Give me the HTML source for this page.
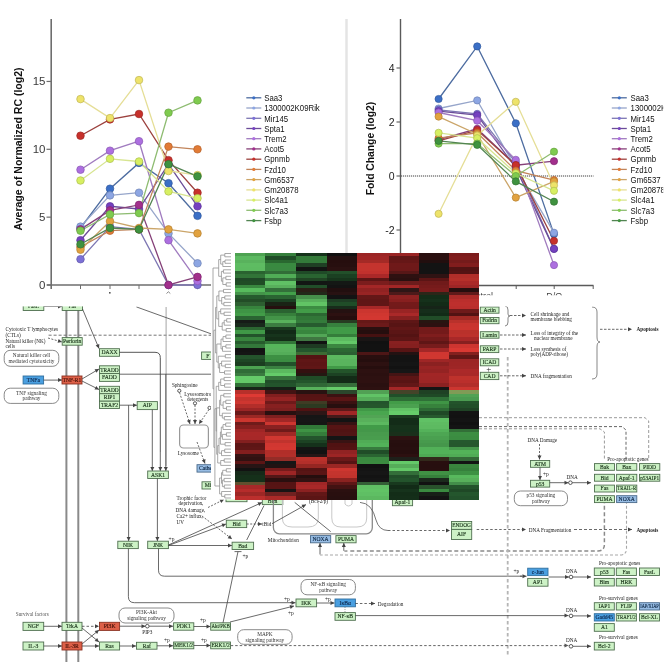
<!DOCTYPE html>
<html><head><meta charset="utf-8"><style>
html,body{margin:0;padding:0;background:#fff;width:667px;height:667px;overflow:hidden}
svg{display:block;will-change:transform;filter:blur(0.45px)}
</style></head><body>
<svg width="667" height="667" viewBox="0 0 667 667">
<rect width="667" height="667" fill="#fff"/>
<line x1="66.4" y1="309" x2="66.4" y2="662" stroke="#8a8a8a" stroke-width="2"/>
<line x1="78.3" y1="309" x2="78.3" y2="662" stroke="#8a8a8a" stroke-width="2"/>
<polyline points="48.6,335.2 211,335.2" fill="none" stroke="#666" stroke-width="0.9" stroke-dasharray="3,2"/>
<line x1="166.1" y1="307" x2="166.1" y2="466" stroke="#9a9a9a" stroke-width="0.9"/>
<polyline points="136.4,306.9 211,333.8" fill="none" stroke="#444" stroke-width="0.8"/>
<rect x="23.2" y="302.5" width="20.60" height="8.00" fill="#cdf2c6" stroke="#4f6f4f" stroke-width="0.9"/>
<text x="33.50" y="308.35" text-anchor="middle" font-size="5.6" fill="#1c361c" stroke="#1c361c" stroke-width="0.15" font-family='"Liberation Serif", serif'>FasL</text>
<polyline points="43.8,306.5 62,306.5" fill="none" stroke="#444" stroke-width="0.8"/>
<polygon points="62,306.5 58.00,308.50 58.00,304.50" fill="#444"/>
<rect x="62.2" y="302.5" width="20.30" height="8.00" fill="#cdf2c6" stroke="#4f6f4f" stroke-width="0.9"/>
<text x="72.35" y="308.35" text-anchor="middle" font-size="5.6" fill="#1c361c" stroke="#1c361c" stroke-width="0.15" font-family='"Liberation Serif", serif'>Fas</text>
<text x="5.5" y="331" text-anchor="start" font-size="5.2" fill="#222" font-family='"Liberation Serif", serif'>Cytotoxic T lymphocytes</text>
<text x="5.5" y="336.5" text-anchor="start" font-size="5.2" fill="#222" font-family='"Liberation Serif", serif'>(CTLs)</text>
<text x="5.5" y="342.5" text-anchor="start" font-size="5.2" fill="#222" font-family='"Liberation Serif", serif'>Natural killer (NK)</text>
<text x="5.5" y="348" text-anchor="start" font-size="5.2" fill="#222" font-family='"Liberation Serif", serif'>cells</text>
<polyline points="48,338 62,342" fill="none" stroke="#444" stroke-width="0.8" stroke-dasharray="2,1.5"/>
<polygon points="62,342 57.60,342.82 58.70,338.98" fill="#444"/>
<rect x="62.2" y="337.6" width="20.00" height="7.60" fill="#cdf2c6" stroke="#4f6f4f" stroke-width="0.9"/>
<text x="72.20" y="343.25" text-anchor="middle" font-size="5.6" fill="#1c361c" stroke="#1c361c" stroke-width="0.15" font-family='"Liberation Serif", serif'>Perforin</text>
<rect x="4.2" y="350.3" width="54.60" height="16.00" rx="6" ry="6" fill="#fff" stroke="#8a8a8a" stroke-width="1"/>
<text x="31.50" y="357.27" text-anchor="middle" font-size="5.3" fill="#333" font-family='"Liberation Serif", serif'>Natural killer cell</text>
<text x="31.50" y="362.83" text-anchor="middle" font-size="5.3" fill="#333" font-family='"Liberation Serif", serif'>mediated cytotoxicity</text>
<polyline points="82.5,309 99,348.5" fill="none" stroke="#444" stroke-width="0.8"/>
<polygon points="99,348.5 95.61,345.58 99.30,344.04" fill="#444"/>
<rect x="99.5" y="348.7" width="20.00" height="7.60" fill="#cdf2c6" stroke="#4f6f4f" stroke-width="0.9"/>
<text x="109.50" y="354.35" text-anchor="middle" font-size="5.6" fill="#1c361c" stroke="#1c361c" stroke-width="0.15" font-family='"Liberation Serif", serif'>DAXX</text>
<path d="M119.5,352.3 L155,352.3 Q160.3,352.3 160.3,357.6 L160.3,452" fill="none" stroke="#444" stroke-width="0.9"/>
<rect x="23.1" y="376.0" width="20.50" height="8.00" fill="#4a9fe0" stroke="#2f6f9f" stroke-width="0.9"/>
<text x="33.35" y="381.85" text-anchor="middle" font-size="5.6" fill="#0f2a50" stroke="#0f2a50" stroke-width="0.15" font-family='"Liberation Serif", serif'>TNFa</text>
<polyline points="43.6,380.1 62,380.1" fill="none" stroke="#444" stroke-width="0.8"/>
<polygon points="62,380.1 58.00,382.10 58.00,378.10" fill="#444"/>
<rect x="62.0" y="376.0" width="20.00" height="8.00" fill="#dd6048" stroke="#8a3020" stroke-width="0.9"/>
<text x="72.00" y="381.85" text-anchor="middle" font-size="5.6" fill="#4a1208" stroke="#4a1208" stroke-width="0.15" font-family='"Liberation Serif", serif' textLength="18.5" lengthAdjust="spacingAndGlyphs">TNF-R1</text>
<rect x="4.2" y="388.2" width="54.60" height="15.20" rx="6" ry="6" fill="#fff" stroke="#8a8a8a" stroke-width="1"/>
<text x="31.50" y="394.77" text-anchor="middle" font-size="5.3" fill="#333" font-family='"Liberation Serif", serif'>TNF signaling</text>
<text x="31.50" y="400.33" text-anchor="middle" font-size="5.3" fill="#333" font-family='"Liberation Serif", serif'>pathway</text>
<polyline points="82,379 99,369" fill="none" stroke="#444" stroke-width="0.8"/>
<polygon points="99,369 96.57,372.75 94.54,369.30" fill="#444"/>
<polyline points="82,381 99,389.5" fill="none" stroke="#444" stroke-width="0.8"/>
<polygon points="99,389.5 94.53,389.50 96.32,385.92" fill="#444"/>
<rect x="99.5" y="365.8" width="20.00" height="7.70" fill="#cdf2c6" stroke="#4f6f4f" stroke-width="0.9"/>
<text x="109.50" y="371.50" text-anchor="middle" font-size="5.6" fill="#1c361c" stroke="#1c361c" stroke-width="0.15" font-family='"Liberation Serif", serif' textLength="18.5" lengthAdjust="spacingAndGlyphs">TRADD</text>
<rect x="99.5" y="373.5" width="20.00" height="7.90" fill="#cdf2c6" stroke="#4f6f4f" stroke-width="0.9"/>
<text x="109.50" y="379.30" text-anchor="middle" font-size="5.6" fill="#1c361c" stroke="#1c361c" stroke-width="0.15" font-family='"Liberation Serif", serif'>FADD</text>
<polyline points="119.5,374.2 211,374.2" fill="none" stroke="#444" stroke-width="0.8"/>
<rect x="99.5" y="386.3" width="20.00" height="7.40" fill="#cdf2c6" stroke="#4f6f4f" stroke-width="0.9"/>
<text x="109.50" y="391.85" text-anchor="middle" font-size="5.6" fill="#1c361c" stroke="#1c361c" stroke-width="0.15" font-family='"Liberation Serif", serif' textLength="18.5" lengthAdjust="spacingAndGlyphs">TRADD</text>
<rect x="99.5" y="393.7" width="20.00" height="7.50" fill="#cdf2c6" stroke="#4f6f4f" stroke-width="0.9"/>
<text x="109.50" y="399.30" text-anchor="middle" font-size="5.6" fill="#1c361c" stroke="#1c361c" stroke-width="0.15" font-family='"Liberation Serif", serif'>RIP1</text>
<rect x="99.5" y="401.2" width="20.00" height="7.30" fill="#cdf2c6" stroke="#4f6f4f" stroke-width="0.9"/>
<text x="109.50" y="406.70" text-anchor="middle" font-size="5.6" fill="#1c361c" stroke="#1c361c" stroke-width="0.15" font-family='"Liberation Serif", serif'>TRAF2</text>
<rect x="201.6" y="352" width="12.40" height="7.40" fill="#cdf2c6" stroke="#4f6f4f" stroke-width="0.9"/>
<text x="207.80" y="357.55" text-anchor="middle" font-size="5.6" fill="#1c361c" stroke="#1c361c" stroke-width="0.15" font-family='"Liberation Serif", serif'>F</text>
<polyline points="119.5,405.2 137,405.2" fill="none" stroke="#444" stroke-width="0.8"/>
<polygon points="137,405.2 133.00,407.20 133.00,403.20" fill="#444"/>
<rect x="137.2" y="401.6" width="20.20" height="8.00" fill="#cdf2c6" stroke="#4f6f4f" stroke-width="0.9"/>
<text x="147.30" y="407.45" text-anchor="middle" font-size="5.6" fill="#1c361c" stroke="#1c361c" stroke-width="0.15" font-family='"Liberation Serif", serif'>AIP</text>
<polyline points="128.6,405.2 128.6,541" fill="none" stroke="#444" stroke-width="0.8"/>
<polygon points="128.6,541 126.60,537.00 130.60,537.00" fill="#444"/>
<polyline points="152.3,409.6 152.3,471" fill="none" stroke="#444" stroke-width="0.8"/>
<polygon points="152.3,471 150.30,467.00 154.30,467.00" fill="#444"/>
<polyline points="165.8,374.2 165.8,471" fill="none" stroke="#444" stroke-width="0.8"/>
<polygon points="165.8,471 163.80,467.00 167.80,467.00" fill="#444"/>
<polyline points="160.3,452 160.3,471" fill="none" stroke="#444" stroke-width="0.8"/>
<polygon points="160.3,471 158.30,467.00 162.30,467.00" fill="#444"/>
<rect x="147.7" y="471.0" width="20.70" height="7.50" fill="#cdf2c6" stroke="#4f6f4f" stroke-width="0.9"/>
<text x="158.05" y="476.60" text-anchor="middle" font-size="5.6" fill="#1c361c" stroke="#1c361c" stroke-width="0.15" font-family='"Liberation Serif", serif'>ASK1</text>
<polyline points="157.4,478.5 157.4,541" fill="none" stroke="#444" stroke-width="0.8"/>
<polygon points="157.4,541 155.40,537.00 159.40,537.00" fill="#444"/>
<rect x="117.8" y="541.2" width="20.50" height="7.40" fill="#cdf2c6" stroke="#4f6f4f" stroke-width="0.9"/>
<text x="128.05" y="546.75" text-anchor="middle" font-size="5.6" fill="#1c361c" stroke="#1c361c" stroke-width="0.15" font-family='"Liberation Serif", serif'>NIK</text>
<rect x="147.7" y="541.2" width="20.70" height="7.40" fill="#cdf2c6" stroke="#4f6f4f" stroke-width="0.9"/>
<text x="158.05" y="546.75" text-anchor="middle" font-size="5.6" fill="#1c361c" stroke="#1c361c" stroke-width="0.15" font-family='"Liberation Serif", serif'>JNK</text>
<text x="168.6" y="540.5" text-anchor="start" font-size="5.5" fill="#222" font-family='"Liberation Serif", serif'>+p</text>
<path d="M128.4,548.6 L128.4,596.7 Q128.4,602.7 134.4,602.7 L292,602.7" fill="none" stroke="#444" stroke-width="0.8"/>
<polyline points="290,602.7 295.5,602.7" fill="none" stroke="#444" stroke-width="0.8"/>
<polygon points="295.5,602.7 291.50,604.70 291.50,600.70" fill="#444"/>
<path d="M158.5,548.6 L158.5,570.2 Q158.5,576.2 164.5,576.2 L522,576.2" fill="none" stroke="#444" stroke-width="0.8"/>
<polyline points="520,576.2 526.5,576.2" fill="none" stroke="#444" stroke-width="0.8"/>
<polygon points="526.5,576.2 522.50,578.20 522.50,574.20" fill="#444"/>
<text x="171.9" y="387" text-anchor="start" font-size="5.2" fill="#222" font-family='"Liberation Serif", serif'>Sphingosine</text>
<circle cx="179.3" cy="390.8" r="1.6" fill="#fff" stroke="#333" stroke-width="0.8"/>
<text x="184.3" y="396" text-anchor="start" font-size="5.2" fill="#222" font-family='"Liberation Serif", serif'>Lysosomotropic</text>
<text x="187" y="400.6" text-anchor="start" font-size="5.2" fill="#222" font-family='"Liberation Serif", serif'>detergents</text>
<circle cx="195" cy="403.3" r="1.6" fill="#fff" stroke="#333" stroke-width="0.8"/>
<circle cx="209.5" cy="407.9" r="1.6" fill="#fff" stroke="#333" stroke-width="0.8"/>
<polyline points="179.5,392.5 190,424" fill="none" stroke="#444" stroke-width="0.8" stroke-dasharray="2,1.5"/>
<polygon points="190,424 186.84,420.84 190.63,419.57" fill="#444"/>
<polyline points="195,405 195,424" fill="none" stroke="#444" stroke-width="0.8" stroke-dasharray="2,1.5"/>
<polygon points="195,424 193.00,420.00 197.00,420.00" fill="#444"/>
<polyline points="209,409.5 199,424" fill="none" stroke="#444" stroke-width="0.8" stroke-dasharray="2,1.5"/>
<polygon points="199,424 199.62,419.57 202.92,421.84" fill="#444"/>
<rect x="179.6" y="425" width="28.8" height="23" rx="4" ry="4" fill="#fff" stroke="#999" stroke-width="1.2"/>
<text x="177.8" y="455" text-anchor="start" font-size="5.2" fill="#222" font-family='"Liberation Serif", serif'>Lysosome</text>
<polyline points="197,442 205,463.5" fill="none" stroke="#444" stroke-width="0.8" stroke-dasharray="2,1.5"/>
<polygon points="205,463.5 201.73,460.45 205.48,459.05" fill="#444"/>
<rect x="197" y="464.7" width="17.00" height="7.40" fill="#98bde4" stroke="#4a6a8a" stroke-width="0.9"/>
<text x="205.50" y="470.25" text-anchor="middle" font-size="5.6" fill="#102a48" stroke="#102a48" stroke-width="0.15" font-family='"Liberation Serif", serif'>Cathe</text>
<rect x="202" y="481.8" width="12.00" height="7.20" fill="#cdf2c6" stroke="#4f6f4f" stroke-width="0.9"/>
<text x="208.00" y="487.25" text-anchor="middle" font-size="5.6" fill="#1c361c" stroke="#1c361c" stroke-width="0.15" font-family='"Liberation Serif", serif'>Mi</text>
<text x="176.6" y="500.3" text-anchor="start" font-size="5.2" fill="#222" font-family='"Liberation Serif", serif'>Trophic factor</text>
<text x="178.5" y="505.3" text-anchor="start" font-size="5.2" fill="#222" font-family='"Liberation Serif", serif'>deprivation,</text>
<text x="175.6" y="511.5" text-anchor="start" font-size="5.2" fill="#222" font-family='"Liberation Serif", serif'>DNA damage,</text>
<text x="176.6" y="518" text-anchor="start" font-size="5.2" fill="#222" font-family='"Liberation Serif", serif'>Ca2+ influx,</text>
<text x="176.6" y="524" text-anchor="start" font-size="5.2" fill="#222" font-family='"Liberation Serif", serif'>UV</text>
<polyline points="208,507.5 224,499.5" fill="none" stroke="#444" stroke-width="0.8" stroke-dasharray="2,1.5"/>
<polygon points="224,499.5 221.32,503.08 219.53,499.50" fill="#444"/>
<polyline points="202,516 232,539" fill="none" stroke="#444" stroke-width="0.8" stroke-dasharray="2,1.5"/>
<polygon points="232,539 227.61,538.15 230.04,534.98" fill="#444"/>
<polyline points="168.4,545 262,502.5" fill="none" stroke="#444" stroke-width="0.8"/>
<polygon points="262,502.5 259.18,505.97 257.53,502.33" fill="#444"/>
<polyline points="168.4,545.5 226,524" fill="none" stroke="#444" stroke-width="0.8"/>
<polygon points="226,524 222.95,527.27 221.55,523.53" fill="#444"/>
<polyline points="168.4,545.5 232,545.5" fill="none" stroke="#444" stroke-width="0.8"/>
<polygon points="232,545.5 228.00,547.50 228.00,543.50" fill="#444"/>
<rect x="226.3" y="520.2" width="20.40" height="7.40" fill="#cdf2c6" stroke="#4f6f4f" stroke-width="0.9"/>
<text x="236.50" y="525.75" text-anchor="middle" font-size="5.6" fill="#1c361c" stroke="#1c361c" stroke-width="0.15" font-family='"Liberation Serif", serif'>Bid</text>
<polyline points="246.7,524 262,524" fill="none" stroke="#444" stroke-width="0.8" stroke-dasharray="2,1.5"/>
<polygon points="262,524 258.00,526.00 258.00,522.00" fill="#444"/>
<text x="262.3" y="526" text-anchor="start" font-size="5.2" fill="#222" font-family='"Liberation Serif", serif'>tBid</text>
<rect x="232.1" y="542.2" width="21.50" height="7.30" fill="#cdf2c6" stroke="#4f6f4f" stroke-width="0.9"/>
<text x="242.85" y="547.70" text-anchor="middle" font-size="5.6" fill="#1c361c" stroke="#1c361c" stroke-width="0.15" font-family='"Liberation Serif", serif'>Bad</text>
<text x="242.5" y="557.5" text-anchor="start" font-size="5.5" fill="#222" font-family='"Liberation Serif", serif'>+p</text>
<polyline points="246.7,540 264,505.6" fill="none" stroke="#444" stroke-width="0.8"/>
<polyline points="234.5,551.6 241.5,551.6" fill="none" stroke="#444" stroke-width="0.8"/>
<rect x="226" y="495" width="21.00" height="6.70" fill="#cdf2c6" stroke="#4f6f4f" stroke-width="0.9"/>
<rect x="262.3" y="497" width="20.50" height="7.60" fill="#cdf2c6" stroke="#4f6f4f" stroke-width="0.9"/>
<text x="272.55" y="502.65" text-anchor="middle" font-size="5.6" fill="#1c361c" stroke="#1c361c" stroke-width="0.15" font-family='"Liberation Serif", serif'>Bim</text>
<rect x="273.4" y="470" width="98.9" height="63.8" rx="6" ry="6" fill="none" stroke="#8a8a8a" stroke-width="1.3"/>
<path d="M282.4,490 L282.4,518 Q282.4,527 292,527 L308,527 Q318.3,527 318.3,518 L318.3,490" fill="none" stroke="#c8c8c8" stroke-width="1"/>
<path d="M331.8,490 L331.8,518 Q331.8,527 341,527 L357,527 Q366.7,527 366.7,518 L366.7,490" fill="none" stroke="#c8c8c8" stroke-width="1"/>
<path d="M345,498 L345,504 Q348.5,508 352,504 L352,498" fill="none" stroke="#c8c8c8" stroke-width="1"/>
<text x="309" y="503" text-anchor="start" font-size="5.2" fill="#222" font-family='"Liberation Serif", serif'>(Bcl-2/p)</text>
<polyline points="272,523.7 306,504.6" fill="none" stroke="#444" stroke-width="0.8"/>
<polygon points="306,504.6 303.49,508.30 301.53,504.82" fill="#444"/>
<polyline points="294.7,502.4 330.7,531.6" fill="none" stroke="#444" stroke-width="0.8"/>
<text x="267.8" y="541.5" text-anchor="start" font-size="5.2" fill="#222" font-family='"Liberation Serif", serif'>Mitochondrion</text>
<rect x="310.5" y="535.6" width="20.20" height="7.20" fill="#98bde4" stroke="#4a6a8a" stroke-width="0.9"/>
<text x="320.60" y="541.05" text-anchor="middle" font-size="5.6" fill="#102a48" stroke="#102a48" stroke-width="0.15" font-family='"Liberation Serif", serif'>NOXA</text>
<rect x="335.9" y="535.6" width="20.20" height="7.20" fill="#cdf2c6" stroke="#4f6f4f" stroke-width="0.9"/>
<text x="346.00" y="541.05" text-anchor="middle" font-size="5.6" fill="#1c361c" stroke="#1c361c" stroke-width="0.15" font-family='"Liberation Serif", serif'>PUMA</text>
<polyline points="320,554.5 320,543" fill="none" stroke="#444" stroke-width="0.8"/>
<polygon points="320,543 322.00,547.00 318.00,547.00" fill="#444"/>
<polyline points="343.8,550.7 343.8,543" fill="none" stroke="#444" stroke-width="0.8"/>
<polygon points="343.8,543 345.80,547.00 341.80,547.00" fill="#444"/>
<path d="M343.8,551 Q343.8,550.9 350,550.9 L598,550.9 Q604.4,550.9 604.4,544.5 L604.4,502.6" fill="none" stroke="#8a8a8a" stroke-width="1.5" stroke-dasharray="4,2.5"/>
<path d="M320,555 Q320,555 326,555 L620,555 Q626.5,555 626.5,548.5 L626.5,502.6" fill="none" stroke="#a8a8a8" stroke-width="1.1" stroke-dasharray="3,2"/>
<rect x="392.4" y="499" width="20.20" height="6.70" fill="#cdf2c6" stroke="#4f6f4f" stroke-width="0.9"/>
<text x="402.50" y="504.20" text-anchor="middle" font-size="5.6" fill="#1c361c" stroke="#1c361c" stroke-width="0.15" font-family='"Liberation Serif", serif'>Apaf-1</text>
<path d="M360,502.4 Q372,503 376,520 Q379,530.5 388,530.5" fill="none" stroke="#555" stroke-width="0.8"/>
<polyline points="388,530.5 450,530.5" fill="none" stroke="#444" stroke-width="0.8" stroke-dasharray="2.5,2"/>
<polygon points="450,530.5 446.00,532.50 446.00,528.50" fill="#444"/>
<rect x="451.5" y="521.5" width="20.20" height="7.90" fill="#cdf2c6" stroke="#4f6f4f" stroke-width="0.9"/>
<text x="461.60" y="527.30" text-anchor="middle" font-size="5.6" fill="#1c361c" stroke="#1c361c" stroke-width="0.15" font-family='"Liberation Serif", serif' textLength="18.7" lengthAdjust="spacingAndGlyphs">ENDOG</text>
<rect x="451.5" y="529.4" width="20.20" height="10.10" fill="#cdf2c6" stroke="#4f6f4f" stroke-width="0.9"/>
<text x="461.60" y="536.30" text-anchor="middle" font-size="5.6" fill="#1c361c" stroke="#1c361c" stroke-width="0.15" font-family='"Liberation Serif", serif'>AIF</text>
<polyline points="476.7,529.5 526,529.5" fill="none" stroke="#444" stroke-width="0.8" stroke-dasharray="2.5,2"/>
<polygon points="526,529.5 522.00,531.50 522.00,527.50" fill="#444"/>
<text x="528.8" y="531.5" text-anchor="start" font-size="5.2" fill="#222" font-family='"Liberation Serif", serif'>DNA Fragmentation</text>
<polyline points="574,529.5 632,529.5" fill="none" stroke="#444" stroke-width="0.8" stroke-dasharray="3,2"/>
<polygon points="632,529.5 628.00,531.50 628.00,527.50" fill="#444"/>
<text x="636.4" y="531.5" text-anchor="start" font-size="5.2" fill="#222" font-family='"Liberation Serif", serif' font-weight="bold">Apoptosis</text>
<polyline points="507.7,357 507.7,655" fill="none" stroke="#b5b5b5" stroke-width="1.8" stroke-dasharray="3.5,2.5"/>
<rect x="480.3" y="307" width="18.70" height="6.20" fill="#cdf2c6" stroke="#4f6f4f" stroke-width="0.9"/>
<text x="489.65" y="311.95" text-anchor="middle" font-size="5.6" fill="#1c361c" stroke="#1c361c" stroke-width="0.15" font-family='"Liberation Serif", serif'>Actin</text>
<rect x="480.3" y="317.5" width="18.70" height="6.20" fill="#cdf2c6" stroke="#4f6f4f" stroke-width="0.9"/>
<text x="489.65" y="322.45" text-anchor="middle" font-size="5.6" fill="#1c361c" stroke="#1c361c" stroke-width="0.15" font-family='"Liberation Serif", serif'>Fodrin</text>
<rect x="480.3" y="331.7" width="18.70" height="6.50" fill="#cdf2c6" stroke="#4f6f4f" stroke-width="0.9"/>
<text x="489.65" y="336.80" text-anchor="middle" font-size="5.6" fill="#1c361c" stroke="#1c361c" stroke-width="0.15" font-family='"Liberation Serif", serif'>Lamin</text>
<rect x="480.3" y="345.8" width="18.50" height="6.80" fill="#cdf2c6" stroke="#4f6f4f" stroke-width="0.9"/>
<text x="489.55" y="351.05" text-anchor="middle" font-size="5.6" fill="#1c361c" stroke="#1c361c" stroke-width="0.15" font-family='"Liberation Serif", serif'>PARP</text>
<rect x="480.3" y="358.8" width="18.50" height="7.00" fill="#cdf2c6" stroke="#4f6f4f" stroke-width="0.9"/>
<text x="489.55" y="364.15" text-anchor="middle" font-size="5.6" fill="#1c361c" stroke="#1c361c" stroke-width="0.15" font-family='"Liberation Serif", serif'>ICAD</text>
<text x="488.7" y="372" text-anchor="middle" font-size="9" fill="#222" font-family='"Liberation Serif", serif'>+</text>
<rect x="480.3" y="372.3" width="18.50" height="7.30" fill="#cdf2c6" stroke="#4f6f4f" stroke-width="0.9"/>
<text x="489.55" y="377.80" text-anchor="middle" font-size="5.6" fill="#1c361c" stroke="#1c361c" stroke-width="0.15" font-family='"Liberation Serif", serif'>CAD</text>
<path d="M505,306 Q508,306 508,310 L508,314 Q508,316 510,316 Q508,316 508,318 L508,322 Q508,326 505,326" fill="none" stroke="#555" stroke-width="0.7"/>
<polyline points="510,315.5 526,315.5" fill="none" stroke="#444" stroke-width="0.8" stroke-dasharray="2.5,1.5"/>
<polygon points="526,315.5 522.00,317.50 522.00,313.50" fill="#444"/>
<text x="530.5" y="316" text-anchor="start" font-size="5.2" fill="#222" font-family='"Liberation Serif", serif'>Cell shrinkage and</text>
<text x="530.5" y="321" text-anchor="start" font-size="5.2" fill="#222" font-family='"Liberation Serif", serif'>membrane blebbing</text>
<polyline points="500,335 526,335" fill="none" stroke="#444" stroke-width="0.8" stroke-dasharray="2.5,1.5"/>
<polygon points="526,335 522.00,337.00 522.00,333.00" fill="#444"/>
<text x="530.5" y="335.3" text-anchor="start" font-size="5.2" fill="#222" font-family='"Liberation Serif", serif'>Loss of integrity of the</text>
<text x="534" y="340.3" text-anchor="start" font-size="5.2" fill="#222" font-family='"Liberation Serif", serif'>nuclear membrane</text>
<polyline points="500,349 526,349" fill="none" stroke="#444" stroke-width="0.8" stroke-dasharray="2.5,1.5"/>
<polygon points="526,349 522.00,351.00 522.00,347.00" fill="#444"/>
<text x="530.5" y="350.5" text-anchor="start" font-size="5.2" fill="#222" font-family='"Liberation Serif", serif'>Loss synthesis of</text>
<text x="530.5" y="355.5" text-anchor="start" font-size="5.2" fill="#222" font-family='"Liberation Serif", serif'>poly(ADP-ribose)</text>
<polyline points="500,375.8 526,375.8" fill="none" stroke="#444" stroke-width="0.8" stroke-dasharray="2.5,1.5"/>
<polygon points="526,375.8 522.00,377.80 522.00,373.80" fill="#444"/>
<text x="530.5" y="378" text-anchor="start" font-size="5.2" fill="#222" font-family='"Liberation Serif", serif'>DNA fragmentation</text>
<path d="M592,307 Q597,307 597,312 L597,337 Q597,342 600,342 Q597,342 597,347 L597,374 Q597,379 592,379" fill="none" stroke="#555" stroke-width="0.7"/>
<polyline points="600,329.3 632,329.3" fill="none" stroke="#444" stroke-width="0.8" stroke-dasharray="2.5,1.5"/>
<polygon points="632,329.3 628.00,331.30 628.00,327.30" fill="#444"/>
<text x="636.5" y="331.3" text-anchor="start" font-size="5.2" fill="#222" font-family='"Liberation Serif", serif' font-weight="bold">Apoptosis</text>
<polyline points="479,417.7 645,417.7 648.7,421 648.7,459" fill="none" stroke="#9a9a9a" stroke-width="1.0" stroke-dasharray="3,2"/>
<polyline points="479,426.6 622,426.6 626,430 626,459" fill="none" stroke="#666" stroke-width="1.0" stroke-dasharray="3,2"/>
<polyline points="479,428.8 600,428.8 604.4,432 604.4,459" fill="none" stroke="#9a9a9a" stroke-width="1.0" stroke-dasharray="3,2"/>
<text x="527.6" y="441.5" text-anchor="start" font-size="5.2" fill="#222" font-family='"Liberation Serif", serif'>DNA Damage</text>
<polyline points="539.5,444 539.5,459.5" fill="none" stroke="#444" stroke-width="0.8" stroke-dasharray="2,1.5"/>
<polygon points="539.5,459.5 537.50,455.50 541.50,455.50" fill="#444"/>
<rect x="530.5" y="460.5" width="19.20" height="6.80" fill="#cdf2c6" stroke="#4f6f4f" stroke-width="0.9"/>
<text x="540.10" y="465.75" text-anchor="middle" font-size="5.6" fill="#1c361c" stroke="#1c361c" stroke-width="0.15" font-family='"Liberation Serif", serif'>ATM</text>
<polyline points="540,467.3 540,480" fill="none" stroke="#444" stroke-width="0.8"/>
<polygon points="540,480 538.00,476.00 542.00,476.00" fill="#444"/>
<text x="543" y="476" text-anchor="start" font-size="5.5" fill="#222" font-family='"Liberation Serif", serif'>+p</text>
<rect x="530.5" y="480.3" width="19.20" height="6.80" fill="#cdf2c6" stroke="#4f6f4f" stroke-width="0.9"/>
<text x="540.10" y="485.55" text-anchor="middle" font-size="5.6" fill="#1c361c" stroke="#1c361c" stroke-width="0.15" font-family='"Liberation Serif", serif'>p53</text>
<polyline points="549.7,482.7 568.5,482.7" fill="none" stroke="#444" stroke-width="0.8"/>
<polygon points="568.5,482.7 564.50,484.70 564.50,480.70" fill="#444"/>
<circle cx="570.4" cy="482.7" r="1.8" fill="#fff" stroke="#333" stroke-width="0.8"/>
<text x="566.5" y="479" text-anchor="start" font-size="5.2" fill="#222" font-family='"Liberation Serif", serif'>DNA</text>
<polyline points="572.2,482.7 591,482.7" fill="none" stroke="#444" stroke-width="0.8"/>
<polygon points="591,482.7 587.00,484.70 587.00,480.70" fill="#444"/>
<rect x="514.3" y="491.0" width="53.20" height="14.70" rx="6" ry="6" fill="#fff" stroke="#8a8a8a" stroke-width="1"/>
<text x="540.90" y="497.32" text-anchor="middle" font-size="5.3" fill="#333" font-family='"Liberation Serif", serif'>p53 signaling</text>
<text x="540.90" y="502.88" text-anchor="middle" font-size="5.3" fill="#333" font-family='"Liberation Serif", serif'>pathway</text>
<text x="607.3" y="461.2" text-anchor="start" font-size="5.2" fill="#222" font-family='"Liberation Serif", serif'>Pro-apoptotic genes</text>
<rect x="594.5" y="463.6" width="20.00" height="6.70" fill="#cdf2c6" stroke="#4f6f4f" stroke-width="0.9"/>
<text x="604.50" y="468.80" text-anchor="middle" font-size="5.6" fill="#1c361c" stroke="#1c361c" stroke-width="0.15" font-family='"Liberation Serif", serif'>Bak</text>
<rect x="616.6" y="463.6" width="20.20" height="6.70" fill="#cdf2c6" stroke="#4f6f4f" stroke-width="0.9"/>
<text x="626.70" y="468.80" text-anchor="middle" font-size="5.6" fill="#1c361c" stroke="#1c361c" stroke-width="0.15" font-family='"Liberation Serif", serif'>Bax</text>
<rect x="639.5" y="463.6" width="20.30" height="6.70" fill="#cdf2c6" stroke="#4f6f4f" stroke-width="0.9"/>
<text x="649.65" y="468.80" text-anchor="middle" font-size="5.6" fill="#1c361c" stroke="#1c361c" stroke-width="0.15" font-family='"Liberation Serif", serif'>PIDD</text>
<rect x="594.5" y="474.3" width="20.00" height="6.90" fill="#cdf2c6" stroke="#4f6f4f" stroke-width="0.9"/>
<text x="604.50" y="479.60" text-anchor="middle" font-size="5.6" fill="#1c361c" stroke="#1c361c" stroke-width="0.15" font-family='"Liberation Serif", serif'>Bid</text>
<rect x="616.6" y="474.3" width="20.20" height="6.90" fill="#cdf2c6" stroke="#4f6f4f" stroke-width="0.9"/>
<text x="626.70" y="479.60" text-anchor="middle" font-size="5.6" fill="#1c361c" stroke="#1c361c" stroke-width="0.15" font-family='"Liberation Serif", serif'>Apaf-1</text>
<rect x="639.5" y="474.3" width="20.30" height="6.90" fill="#cdf2c6" stroke="#4f6f4f" stroke-width="0.9"/>
<text x="649.65" y="479.60" text-anchor="middle" font-size="5.6" fill="#1c361c" stroke="#1c361c" stroke-width="0.15" font-family='"Liberation Serif", serif' textLength="18.8" lengthAdjust="spacingAndGlyphs">p53AIP1</text>
<rect x="594.5" y="485.1" width="20.00" height="6.90" fill="#cdf2c6" stroke="#4f6f4f" stroke-width="0.9"/>
<text x="604.50" y="490.40" text-anchor="middle" font-size="5.6" fill="#1c361c" stroke="#1c361c" stroke-width="0.15" font-family='"Liberation Serif", serif'>Fas</text>
<rect x="616.6" y="485.1" width="20.20" height="6.90" fill="#cdf2c6" stroke="#4f6f4f" stroke-width="0.9"/>
<text x="626.70" y="490.40" text-anchor="middle" font-size="5.6" fill="#1c361c" stroke="#1c361c" stroke-width="0.15" font-family='"Liberation Serif", serif' textLength="18.7" lengthAdjust="spacingAndGlyphs">TRAIL-R</text>
<rect x="594.5" y="495.7" width="20.00" height="6.90" fill="#cdf2c6" stroke="#4f6f4f" stroke-width="0.9"/>
<text x="604.50" y="501.00" text-anchor="middle" font-size="5.6" fill="#1c361c" stroke="#1c361c" stroke-width="0.15" font-family='"Liberation Serif", serif'>PUMA</text>
<rect x="616.6" y="495.7" width="20.20" height="6.90" fill="#98bde4" stroke="#4a6a8a" stroke-width="0.9"/>
<text x="626.70" y="501.00" text-anchor="middle" font-size="5.6" fill="#102a48" stroke="#102a48" stroke-width="0.15" font-family='"Liberation Serif", serif'>NOXA</text>
<rect x="301" y="579.5" width="54.40" height="15.30" rx="6" ry="6" fill="#fff" stroke="#8a8a8a" stroke-width="1"/>
<text x="328.20" y="586.12" text-anchor="middle" font-size="5.3" fill="#333" font-family='"Liberation Serif", serif'>NF-κB signaling</text>
<text x="328.20" y="591.68" text-anchor="middle" font-size="5.3" fill="#333" font-family='"Liberation Serif", serif'>pathway</text>
<text x="284" y="601" text-anchor="start" font-size="5.5" fill="#222" font-family='"Liberation Serif", serif'>+p</text>
<rect x="296" y="599" width="20.60" height="7.80" fill="#cdf2c6" stroke="#4f6f4f" stroke-width="0.9"/>
<text x="306.30" y="604.75" text-anchor="middle" font-size="5.6" fill="#1c361c" stroke="#1c361c" stroke-width="0.15" font-family='"Liberation Serif", serif'>IKK</text>
<text x="288" y="614.5" text-anchor="start" font-size="5.5" fill="#222" font-family='"Liberation Serif", serif'>+p</text>
<polyline points="316.6,603 334.5,603" fill="none" stroke="#444" stroke-width="0.8"/>
<polygon points="334.5,603 330.50,605.00 330.50,601.00" fill="#444"/>
<text x="325" y="600.5" text-anchor="start" font-size="5.5" fill="#222" font-family='"Liberation Serif", serif'>+p</text>
<rect x="335" y="599" width="20.40" height="7.80" fill="#4a9fe0" stroke="#2f6f9f" stroke-width="0.9"/>
<text x="345.20" y="604.75" text-anchor="middle" font-size="5.6" fill="#0f2a50" stroke="#0f2a50" stroke-width="0.15" font-family='"Liberation Serif", serif'>IκBα</text>
<polyline points="355.4,603.5 375,603.5" fill="none" stroke="#444" stroke-width="0.8" stroke-dasharray="2.5,2"/>
<polygon points="375,603.5 371.00,605.50 371.00,601.50" fill="#444"/>
<text x="377.8" y="605.5" text-anchor="start" font-size="5.2" fill="#222" font-family='"Liberation Serif", serif'>Degradation</text>
<line x1="345" y1="607" x2="345" y2="612.5" stroke="#666" stroke-width="0.6" stroke-dasharray="1,1"/>
<rect x="335" y="612.6" width="20.40" height="7.70" fill="#cdf2c6" stroke="#4f6f4f" stroke-width="0.9"/>
<text x="345.20" y="618.30" text-anchor="middle" font-size="5.6" fill="#1c361c" stroke="#1c361c" stroke-width="0.15" font-family='"Liberation Serif", serif'>NF-κB</text>
<polyline points="355.4,615.6 568.5,615.6" fill="none" stroke="#444" stroke-width="0.8"/>
<polygon points="568.5,615.6 564.50,617.60 564.50,613.60" fill="#444"/>
<text x="513.5" y="573" text-anchor="start" font-size="5.5" fill="#222" font-family='"Liberation Serif", serif'>+p</text>
<rect x="527.7" y="568.2" width="20.30" height="7.40" fill="#4a9fe0" stroke="#2f6f9f" stroke-width="0.9"/>
<text x="537.85" y="573.75" text-anchor="middle" font-size="5.6" fill="#0f2a50" stroke="#0f2a50" stroke-width="0.15" font-family='"Liberation Serif", serif'>c-Jun</text>
<rect x="527.7" y="578.4" width="20.30" height="7.80" fill="#cdf2c6" stroke="#4f6f4f" stroke-width="0.9"/>
<text x="537.85" y="584.15" text-anchor="middle" font-size="5.6" fill="#1c361c" stroke="#1c361c" stroke-width="0.15" font-family='"Liberation Serif", serif'>AP1</text>
<polyline points="548.6,577 569,577" fill="none" stroke="#444" stroke-width="0.8"/>
<polygon points="569,577 565.00,579.00 565.00,575.00" fill="#444"/>
<circle cx="571" cy="577" r="1.8" fill="#fff" stroke="#333" stroke-width="0.8"/>
<text x="566" y="573" text-anchor="start" font-size="5.2" fill="#222" font-family='"Liberation Serif", serif'>DNA</text>
<polyline points="573,577 591,577" fill="none" stroke="#444" stroke-width="0.8"/>
<polygon points="591,577 587.00,579.00 587.00,575.00" fill="#444"/>
<text x="599" y="565" text-anchor="start" font-size="5.2" fill="#222" font-family='"Liberation Serif", serif'>Pro-apoptotic genes</text>
<rect x="594.3" y="568.0" width="20.00" height="7.50" fill="#cdf2c6" stroke="#4f6f4f" stroke-width="0.9"/>
<text x="604.30" y="573.60" text-anchor="middle" font-size="5.6" fill="#1c361c" stroke="#1c361c" stroke-width="0.15" font-family='"Liberation Serif", serif'>p53</text>
<rect x="616.3" y="568.0" width="20.10" height="7.50" fill="#cdf2c6" stroke="#4f6f4f" stroke-width="0.9"/>
<text x="626.35" y="573.60" text-anchor="middle" font-size="5.6" fill="#1c361c" stroke="#1c361c" stroke-width="0.15" font-family='"Liberation Serif", serif'>Fas</text>
<rect x="639.5" y="568.0" width="20.00" height="7.50" fill="#cdf2c6" stroke="#4f6f4f" stroke-width="0.9"/>
<text x="649.50" y="573.60" text-anchor="middle" font-size="5.6" fill="#1c361c" stroke="#1c361c" stroke-width="0.15" font-family='"Liberation Serif", serif'>FasL</text>
<rect x="594.3" y="578.4" width="20.00" height="7.60" fill="#cdf2c6" stroke="#4f6f4f" stroke-width="0.9"/>
<text x="604.30" y="584.05" text-anchor="middle" font-size="5.6" fill="#1c361c" stroke="#1c361c" stroke-width="0.15" font-family='"Liberation Serif", serif'>Bim</text>
<rect x="616.3" y="578.4" width="20.10" height="7.60" fill="#cdf2c6" stroke="#4f6f4f" stroke-width="0.9"/>
<text x="626.35" y="584.05" text-anchor="middle" font-size="5.6" fill="#1c361c" stroke="#1c361c" stroke-width="0.15" font-family='"Liberation Serif", serif'>HRK</text>
<text x="599" y="599.5" text-anchor="start" font-size="5.2" fill="#222" font-family='"Liberation Serif", serif'>Pro-survival genes</text>
<rect x="594.3" y="602.7" width="20.00" height="7.30" fill="#cdf2c6" stroke="#4f6f4f" stroke-width="0.9"/>
<text x="604.30" y="608.20" text-anchor="middle" font-size="5.6" fill="#1c361c" stroke="#1c361c" stroke-width="0.15" font-family='"Liberation Serif", serif'>IAP1</text>
<rect x="616.3" y="602.7" width="20.10" height="7.30" fill="#cdf2c6" stroke="#4f6f4f" stroke-width="0.9"/>
<text x="626.35" y="608.20" text-anchor="middle" font-size="5.6" fill="#1c361c" stroke="#1c361c" stroke-width="0.15" font-family='"Liberation Serif", serif'>FLIP</text>
<rect x="639.5" y="602.7" width="20.00" height="7.30" fill="#98bde4" stroke="#4a6a8a" stroke-width="0.9"/>
<text x="649.50" y="608.20" text-anchor="middle" font-size="5.6" fill="#102a48" stroke="#102a48" stroke-width="0.15" font-family='"Liberation Serif", serif' textLength="18.5" lengthAdjust="spacingAndGlyphs">IAP/XIAP</text>
<rect x="594.3" y="613.7" width="20.00" height="7.30" fill="#4a9fe0" stroke="#2f6f9f" stroke-width="0.9"/>
<text x="604.30" y="619.20" text-anchor="middle" font-size="5.6" fill="#0f2a50" stroke="#0f2a50" stroke-width="0.15" font-family='"Liberation Serif", serif'>Gadd45</text>
<rect x="616.3" y="613.7" width="20.10" height="7.30" fill="#cdf2c6" stroke="#4f6f4f" stroke-width="0.9"/>
<text x="626.35" y="619.20" text-anchor="middle" font-size="5.6" fill="#1c361c" stroke="#1c361c" stroke-width="0.15" font-family='"Liberation Serif", serif' textLength="18.6" lengthAdjust="spacingAndGlyphs">TRAF1/2</text>
<rect x="639.5" y="613.7" width="20.00" height="7.30" fill="#cdf2c6" stroke="#4f6f4f" stroke-width="0.9"/>
<text x="649.50" y="619.20" text-anchor="middle" font-size="5.6" fill="#1c361c" stroke="#1c361c" stroke-width="0.15" font-family='"Liberation Serif", serif'>Bcl-XL</text>
<rect x="594.3" y="623.6" width="20.00" height="7.70" fill="#cdf2c6" stroke="#4f6f4f" stroke-width="0.9"/>
<text x="604.30" y="629.30" text-anchor="middle" font-size="5.6" fill="#1c361c" stroke="#1c361c" stroke-width="0.15" font-family='"Liberation Serif", serif'>A1</text>
<circle cx="571" cy="615.9" r="1.8" fill="#fff" stroke="#333" stroke-width="0.8"/>
<text x="566" y="611.5" text-anchor="start" font-size="5.2" fill="#222" font-family='"Liberation Serif", serif'>DNA</text>
<polyline points="573,615.9 591,615.9" fill="none" stroke="#444" stroke-width="0.8"/>
<polygon points="591,615.9 587.00,617.90 587.00,613.90" fill="#444"/>
<text x="599" y="639" text-anchor="start" font-size="5.2" fill="#222" font-family='"Liberation Serif", serif'>Pro-survival genes</text>
<rect x="594.3" y="642.3" width="20.00" height="7.70" fill="#cdf2c6" stroke="#4f6f4f" stroke-width="0.9"/>
<text x="604.30" y="648.00" text-anchor="middle" font-size="5.6" fill="#1c361c" stroke="#1c361c" stroke-width="0.15" font-family='"Liberation Serif", serif'>Bcl-2</text>
<circle cx="571" cy="646.3" r="1.8" fill="#fff" stroke="#333" stroke-width="0.8"/>
<text x="566" y="642" text-anchor="start" font-size="5.2" fill="#222" font-family='"Liberation Serif", serif'>DNA</text>
<polyline points="573,646.3 591,646.3" fill="none" stroke="#444" stroke-width="0.8"/>
<polygon points="591,646.3 587.00,648.30 587.00,644.30" fill="#444"/>
<polyline points="230.7,645.6 568.5,645.6" fill="none" stroke="#555" stroke-width="0.9" stroke-dasharray="2.5,2"/>
<polygon points="568.5,645.6 564.50,647.60 564.50,643.60" fill="#555"/>
<text x="15.8" y="615.5" text-anchor="start" font-size="5.2" fill="#555" font-family='"Liberation Serif", serif'>Survival factors</text>
<rect x="23" y="622.3" width="20.70" height="8.10" fill="#cdf2c6" stroke="#4f6f4f" stroke-width="0.9"/>
<text x="33.35" y="628.20" text-anchor="middle" font-size="5.6" fill="#1c361c" stroke="#1c361c" stroke-width="0.15" font-family='"Liberation Serif", serif'>NGF</text>
<polyline points="43.7,626.3 62,626.3" fill="none" stroke="#444" stroke-width="0.8"/>
<polygon points="62,626.3 58.00,628.30 58.00,624.30" fill="#444"/>
<rect x="62" y="622.3" width="20.00" height="8.10" fill="#cdf2c6" stroke="#4f6f4f" stroke-width="0.9"/>
<text x="72.00" y="628.20" text-anchor="middle" font-size="5.6" fill="#1c361c" stroke="#1c361c" stroke-width="0.15" font-family='"Liberation Serif", serif'>TrkA</text>
<polyline points="82,626.3 99,626.3" fill="none" stroke="#444" stroke-width="0.8" stroke-dasharray="2.5,2"/>
<polygon points="99,626.3 95.00,628.30 95.00,624.30" fill="#444"/>
<rect x="99.5" y="622.3" width="20.10" height="8.10" fill="#dd6048" stroke="#8a3020" stroke-width="0.9"/>
<text x="109.55" y="628.20" text-anchor="middle" font-size="5.6" fill="#4a1208" stroke="#4a1208" stroke-width="0.15" font-family='"Liberation Serif", serif'>PI3K</text>
<rect x="23" y="642" width="20.70" height="8.00" fill="#cdf2c6" stroke="#4f6f4f" stroke-width="0.9"/>
<text x="33.35" y="647.85" text-anchor="middle" font-size="5.6" fill="#1c361c" stroke="#1c361c" stroke-width="0.15" font-family='"Liberation Serif", serif'>IL-3</text>
<polyline points="43.7,646 62,646" fill="none" stroke="#444" stroke-width="0.8"/>
<polygon points="62,646 58.00,648.00 58.00,644.00" fill="#444"/>
<rect x="62" y="642" width="20.00" height="8.00" fill="#dd6048" stroke="#8a3020" stroke-width="0.9"/>
<text x="72.00" y="647.85" text-anchor="middle" font-size="5.6" fill="#4a1208" stroke="#4a1208" stroke-width="0.15" font-family='"Liberation Serif", serif'>IL-3R</text>
<polyline points="82,646 99,646" fill="none" stroke="#444" stroke-width="0.8"/>
<polygon points="99,646 95.00,648.00 95.00,644.00" fill="#444"/>
<polyline points="82,628 99,642" fill="none" stroke="#444" stroke-width="0.8"/>
<polygon points="99,642 94.64,641.00 97.18,637.91" fill="#444"/>
<polyline points="82,644 99,630" fill="none" stroke="#444" stroke-width="0.8"/>
<polygon points="99,630 97.18,634.09 94.64,631.00" fill="#444"/>
<rect x="99.5" y="642" width="20.10" height="8.00" fill="#cdf2c6" stroke="#4f6f4f" stroke-width="0.9"/>
<text x="109.55" y="647.85" text-anchor="middle" font-size="5.6" fill="#1c361c" stroke="#1c361c" stroke-width="0.15" font-family='"Liberation Serif", serif'>Ras</text>
<rect x="119" y="608" width="55.00" height="15.00" rx="6" ry="6" fill="#fff" stroke="#8a8a8a" stroke-width="1"/>
<text x="146.50" y="614.47" text-anchor="middle" font-size="5.3" fill="#333" font-family='"Liberation Serif", serif'>PI3K-Akt</text>
<text x="146.50" y="620.03" text-anchor="middle" font-size="5.3" fill="#333" font-family='"Liberation Serif", serif'>signaling pathway</text>
<polyline points="119.6,626.2 145.5,626.2" fill="none" stroke="#444" stroke-width="0.8"/>
<polygon points="145.5,626.2 141.50,628.20 141.50,624.20" fill="#444"/>
<circle cx="147.3" cy="626.2" r="1.8" fill="#fff" stroke="#333" stroke-width="0.8"/>
<text x="147.3" y="633.5" text-anchor="middle" font-size="5.2" fill="#222" font-family='"Liberation Serif", serif'>PIP3</text>
<polyline points="149.1,626.2 173,626.2" fill="none" stroke="#444" stroke-width="0.8"/>
<polygon points="173,626.2 169.00,628.20 169.00,624.20" fill="#444"/>
<rect x="173.6" y="622.8" width="20.20" height="7.40" fill="#cdf2c6" stroke="#4f6f4f" stroke-width="0.9"/>
<text x="183.70" y="628.35" text-anchor="middle" font-size="5.6" fill="#1c361c" stroke="#1c361c" stroke-width="0.15" font-family='"Liberation Serif", serif'>PDK1</text>
<polyline points="193.8,626.5 210.5,626.5" fill="none" stroke="#444" stroke-width="0.8"/>
<polygon points="210.5,626.5 206.50,628.50 206.50,624.50" fill="#444"/>
<text x="200" y="622" text-anchor="start" font-size="5.5" fill="#222" font-family='"Liberation Serif", serif'>+p</text>
<rect x="210.7" y="622.8" width="19.80" height="7.40" fill="#cdf2c6" stroke="#4f6f4f" stroke-width="0.9"/>
<text x="220.60" y="628.35" text-anchor="middle" font-size="5.6" fill="#1c361c" stroke="#1c361c" stroke-width="0.15" font-family='"Liberation Serif", serif' textLength="18.3" lengthAdjust="spacingAndGlyphs">Akt/PKB</text>
<polyline points="223,622.8 238,551.6" fill="none" stroke="#444" stroke-width="0.8"/>
<polyline points="230,622 294,606" fill="none" stroke="#444" stroke-width="0.8"/>
<polygon points="294,606 290.60,608.91 289.63,605.03" fill="#444"/>
<polyline points="119.6,646 136,646" fill="none" stroke="#444" stroke-width="0.8"/>
<polygon points="136,646 132.00,648.00 132.00,644.00" fill="#444"/>
<rect x="136.5" y="642.3" width="20.50" height="6.90" fill="#cdf2c6" stroke="#4f6f4f" stroke-width="0.9"/>
<text x="146.75" y="647.60" text-anchor="middle" font-size="5.6" fill="#1c361c" stroke="#1c361c" stroke-width="0.15" font-family='"Liberation Serif", serif'>Raf</text>
<polyline points="157,645.8 173,645.8" fill="none" stroke="#444" stroke-width="0.8"/>
<polygon points="173,645.8 169.00,647.80 169.00,643.80" fill="#444"/>
<text x="164" y="641.5" text-anchor="start" font-size="5.5" fill="#222" font-family='"Liberation Serif", serif'>+p</text>
<rect x="173.6" y="642.0" width="20.20" height="6.80" fill="#cdf2c6" stroke="#4f6f4f" stroke-width="0.9"/>
<text x="183.70" y="647.25" text-anchor="middle" font-size="5.6" fill="#1c361c" stroke="#1c361c" stroke-width="0.15" font-family='"Liberation Serif", serif' textLength="18.7" lengthAdjust="spacingAndGlyphs">MEK1/2</text>
<polyline points="193.8,645.5 210.5,645.5" fill="none" stroke="#444" stroke-width="0.8"/>
<polygon points="210.5,645.5 206.50,647.50 206.50,643.50" fill="#444"/>
<text x="201" y="641.5" text-anchor="start" font-size="5.5" fill="#222" font-family='"Liberation Serif", serif'>+p</text>
<rect x="210.7" y="642.0" width="19.80" height="6.80" fill="#cdf2c6" stroke="#4f6f4f" stroke-width="0.9"/>
<text x="220.60" y="647.25" text-anchor="middle" font-size="5.6" fill="#1c361c" stroke="#1c361c" stroke-width="0.15" font-family='"Liberation Serif", serif' textLength="18.3" lengthAdjust="spacingAndGlyphs">ERK1/2</text>
<rect x="237.7" y="629.7" width="54.40" height="14.60" rx="6" ry="6" fill="#fff" stroke="#8a8a8a" stroke-width="1"/>
<text x="264.90" y="635.97" text-anchor="middle" font-size="5.3" fill="#333" font-family='"Liberation Serif", serif'>MAPK</text>
<text x="264.90" y="641.53" text-anchor="middle" font-size="5.3" fill="#333" font-family='"Liberation Serif", serif'>signaling pathway</text>
<rect x="0" y="0" width="667" height="306.4" fill="#fff"/>
<line x1="51.2" y1="19" x2="51.2" y2="289" stroke="#6e6e6e" stroke-width="1.6"/>
<line x1="47" y1="285" x2="214" y2="285" stroke="#6e6e6e" stroke-width="1.6"/>
<line x1="46.5" y1="81.44999999999999" x2="51" y2="81.44999999999999" stroke="#6e6e6e" stroke-width="1.2"/>
<text x="45.5" y="85.44999999999999" text-anchor="end" font-size="11.5" fill="#3a3a3a" font-family='"Liberation Sans", sans-serif'>15</text>
<line x1="46.5" y1="149.3" x2="51" y2="149.3" stroke="#6e6e6e" stroke-width="1.2"/>
<text x="45.5" y="153.3" text-anchor="end" font-size="11.5" fill="#3a3a3a" font-family='"Liberation Sans", sans-serif'>10</text>
<line x1="46.5" y1="217.15" x2="51" y2="217.15" stroke="#6e6e6e" stroke-width="1.2"/>
<text x="45.5" y="221.15" text-anchor="end" font-size="11.5" fill="#3a3a3a" font-family='"Liberation Sans", sans-serif'>5</text>
<line x1="46.5" y1="285.0" x2="51" y2="285.0" stroke="#6e6e6e" stroke-width="1.2"/>
<text x="45.5" y="289.0" text-anchor="end" font-size="11.5" fill="#3a3a3a" font-family='"Liberation Sans", sans-serif'>0</text>
<line x1="80.5" y1="285" x2="80.5" y2="289" stroke="#6e6e6e" stroke-width="1"/>
<line x1="110.0" y1="285" x2="110.0" y2="289" stroke="#6e6e6e" stroke-width="1"/>
<line x1="139.0" y1="285" x2="139.0" y2="289" stroke="#6e6e6e" stroke-width="1"/>
<line x1="168.5" y1="285" x2="168.5" y2="289" stroke="#6e6e6e" stroke-width="1"/>
<line x1="197.5" y1="285" x2="197.5" y2="289" stroke="#6e6e6e" stroke-width="1"/>
<rect x="109" y="292" width="1.6" height="1.6" fill="#555"/>
<path d="M166.5,293.5 L168.4,291.8 L170.3,293.5" fill="none" stroke="#666" stroke-width="0.8"/>
<text transform="translate(21.8,149) rotate(-90)" text-anchor="middle" font-size="11.3" font-weight="bold" fill="#111" font-family='"Liberation Sans", sans-serif' textLength="163" lengthAdjust="spacingAndGlyphs">Average of Normalized RC (log2)</text>
<polyline points="80.5,228.0 110.0,188.7 139.0,162.9 168.5,183.2 197.5,215.8" fill="none" stroke="#4d6ca0" stroke-width="1.3"/>
<polyline points="80.5,226.6 110.0,195.4 139.0,192.7 168.5,233.4 197.5,263.3" fill="none" stroke="#96a5ca" stroke-width="1.3"/>
<polyline points="80.5,259.2 110.0,226.6 139.0,229.4 168.5,285.0 197.5,285.0" fill="none" stroke="#7d76b3" stroke-width="1.3"/>
<polyline points="80.5,240.2 110.0,206.3 139.0,209.0 168.5,164.2 197.5,206.3" fill="none" stroke="#6b4c98" stroke-width="1.3"/>
<polyline points="80.5,169.7 110.0,150.7 139.0,141.2 168.5,240.2 197.5,280.9" fill="none" stroke="#a07bbf" stroke-width="1.3"/>
<polyline points="80.5,229.4 110.0,210.4 139.0,204.9 168.5,285.0 197.5,276.9" fill="none" stroke="#854078" stroke-width="1.3"/>
<polyline points="80.5,135.7 110.0,119.4 139.0,114.0 168.5,160.2 197.5,192.7" fill="none" stroke="#9c413e" stroke-width="1.3"/>
<polyline points="80.5,247.0 110.0,230.7 139.0,229.4 168.5,146.6 197.5,149.3" fill="none" stroke="#c1845a" stroke-width="1.3"/>
<polyline points="80.5,249.7 110.0,221.2 139.0,228.0 168.5,229.4 197.5,233.4" fill="none" stroke="#cba569" stroke-width="1.3"/>
<polyline points="80.5,99.1 110.0,118.1 139.0,80.1 168.5,171.0 197.5,175.1" fill="none" stroke="#e5de96" stroke-width="1.3"/>
<polyline points="80.5,180.5 110.0,158.8 139.0,161.5 168.5,191.4 197.5,198.2" fill="none" stroke="#d7e591" stroke-width="1.3"/>
<polyline points="80.5,230.7 110.0,214.4 139.0,213.1 168.5,112.7 197.5,100.4" fill="none" stroke="#8ebc71" stroke-width="1.3"/>
<polyline points="80.5,244.3 110.0,228.0 139.0,229.4 168.5,164.2 197.5,176.4" fill="none" stroke="#528452" stroke-width="1.3"/>
<circle cx="80.5" cy="228.0" r="3.8" fill="#3b6fc6" stroke="#2f589e" stroke-width="0.7"/>
<circle cx="110.0" cy="188.7" r="3.8" fill="#3b6fc6" stroke="#2f589e" stroke-width="0.7"/>
<circle cx="139.0" cy="162.9" r="3.8" fill="#3b6fc6" stroke="#2f589e" stroke-width="0.7"/>
<circle cx="168.5" cy="183.2" r="3.8" fill="#3b6fc6" stroke="#2f589e" stroke-width="0.7"/>
<circle cx="197.5" cy="215.8" r="3.8" fill="#3b6fc6" stroke="#2f589e" stroke-width="0.7"/>
<circle cx="80.5" cy="226.6" r="3.8" fill="#8da6e3" stroke="#7084b5" stroke-width="0.7"/>
<circle cx="110.0" cy="195.4" r="3.8" fill="#8da6e3" stroke="#7084b5" stroke-width="0.7"/>
<circle cx="139.0" cy="192.7" r="3.8" fill="#8da6e3" stroke="#7084b5" stroke-width="0.7"/>
<circle cx="168.5" cy="233.4" r="3.8" fill="#8da6e3" stroke="#7084b5" stroke-width="0.7"/>
<circle cx="197.5" cy="263.3" r="3.8" fill="#8da6e3" stroke="#7084b5" stroke-width="0.7"/>
<circle cx="80.5" cy="259.2" r="3.8" fill="#7c70d6" stroke="#6359ab" stroke-width="0.7"/>
<circle cx="110.0" cy="226.6" r="3.8" fill="#7c70d6" stroke="#6359ab" stroke-width="0.7"/>
<circle cx="139.0" cy="229.4" r="3.8" fill="#7c70d6" stroke="#6359ab" stroke-width="0.7"/>
<circle cx="168.5" cy="285.0" r="3.8" fill="#7c70d6" stroke="#6359ab" stroke-width="0.7"/>
<circle cx="197.5" cy="285.0" r="3.8" fill="#7c70d6" stroke="#6359ab" stroke-width="0.7"/>
<circle cx="80.5" cy="240.2" r="3.8" fill="#7440bf" stroke="#5c3398" stroke-width="0.7"/>
<circle cx="110.0" cy="206.3" r="3.8" fill="#7440bf" stroke="#5c3398" stroke-width="0.7"/>
<circle cx="139.0" cy="209.0" r="3.8" fill="#7440bf" stroke="#5c3398" stroke-width="0.7"/>
<circle cx="168.5" cy="164.2" r="3.8" fill="#7440bf" stroke="#5c3398" stroke-width="0.7"/>
<circle cx="197.5" cy="206.3" r="3.8" fill="#7440bf" stroke="#5c3398" stroke-width="0.7"/>
<circle cx="80.5" cy="169.7" r="3.8" fill="#ad6fe0" stroke="#8a58b3" stroke-width="0.7"/>
<circle cx="110.0" cy="150.7" r="3.8" fill="#ad6fe0" stroke="#8a58b3" stroke-width="0.7"/>
<circle cx="139.0" cy="141.2" r="3.8" fill="#ad6fe0" stroke="#8a58b3" stroke-width="0.7"/>
<circle cx="168.5" cy="240.2" r="3.8" fill="#ad6fe0" stroke="#8a58b3" stroke-width="0.7"/>
<circle cx="197.5" cy="280.9" r="3.8" fill="#ad6fe0" stroke="#8a58b3" stroke-width="0.7"/>
<circle cx="80.5" cy="229.4" r="3.8" fill="#a22f8c" stroke="#812570" stroke-width="0.7"/>
<circle cx="110.0" cy="210.4" r="3.8" fill="#a22f8c" stroke="#812570" stroke-width="0.7"/>
<circle cx="139.0" cy="204.9" r="3.8" fill="#a22f8c" stroke="#812570" stroke-width="0.7"/>
<circle cx="168.5" cy="285.0" r="3.8" fill="#a22f8c" stroke="#812570" stroke-width="0.7"/>
<circle cx="197.5" cy="276.9" r="3.8" fill="#a22f8c" stroke="#812570" stroke-width="0.7"/>
<circle cx="80.5" cy="135.7" r="3.8" fill="#c7302b" stroke="#9f2622" stroke-width="0.7"/>
<circle cx="110.0" cy="119.4" r="3.8" fill="#c7302b" stroke="#9f2622" stroke-width="0.7"/>
<circle cx="139.0" cy="114.0" r="3.8" fill="#c7302b" stroke="#9f2622" stroke-width="0.7"/>
<circle cx="168.5" cy="160.2" r="3.8" fill="#c7302b" stroke="#9f2622" stroke-width="0.7"/>
<circle cx="197.5" cy="192.7" r="3.8" fill="#c7302b" stroke="#9f2622" stroke-width="0.7"/>
<circle cx="80.5" cy="247.0" r="3.8" fill="#e27b36" stroke="#b4622b" stroke-width="0.7"/>
<circle cx="110.0" cy="230.7" r="3.8" fill="#e27b36" stroke="#b4622b" stroke-width="0.7"/>
<circle cx="139.0" cy="229.4" r="3.8" fill="#e27b36" stroke="#b4622b" stroke-width="0.7"/>
<circle cx="168.5" cy="146.6" r="3.8" fill="#e27b36" stroke="#b4622b" stroke-width="0.7"/>
<circle cx="197.5" cy="149.3" r="3.8" fill="#e27b36" stroke="#b4622b" stroke-width="0.7"/>
<circle cx="80.5" cy="249.7" r="3.8" fill="#e2a23f" stroke="#b48132" stroke-width="0.7"/>
<circle cx="110.0" cy="221.2" r="3.8" fill="#e2a23f" stroke="#b48132" stroke-width="0.7"/>
<circle cx="139.0" cy="228.0" r="3.8" fill="#e2a23f" stroke="#b48132" stroke-width="0.7"/>
<circle cx="168.5" cy="229.4" r="3.8" fill="#e2a23f" stroke="#b48132" stroke-width="0.7"/>
<circle cx="197.5" cy="233.4" r="3.8" fill="#e2a23f" stroke="#b48132" stroke-width="0.7"/>
<circle cx="80.5" cy="99.1" r="3.8" fill="#eee36a" stroke="#beb554" stroke-width="0.7"/>
<circle cx="110.0" cy="118.1" r="3.8" fill="#eee36a" stroke="#beb554" stroke-width="0.7"/>
<circle cx="139.0" cy="80.1" r="3.8" fill="#eee36a" stroke="#beb554" stroke-width="0.7"/>
<circle cx="168.5" cy="171.0" r="3.8" fill="#eee36a" stroke="#beb554" stroke-width="0.7"/>
<circle cx="197.5" cy="175.1" r="3.8" fill="#eee36a" stroke="#beb554" stroke-width="0.7"/>
<circle cx="80.5" cy="180.5" r="3.8" fill="#d7ef62" stroke="#acbf4e" stroke-width="0.7"/>
<circle cx="110.0" cy="158.8" r="3.8" fill="#d7ef62" stroke="#acbf4e" stroke-width="0.7"/>
<circle cx="139.0" cy="161.5" r="3.8" fill="#d7ef62" stroke="#acbf4e" stroke-width="0.7"/>
<circle cx="168.5" cy="191.4" r="3.8" fill="#d7ef62" stroke="#acbf4e" stroke-width="0.7"/>
<circle cx="197.5" cy="198.2" r="3.8" fill="#d7ef62" stroke="#acbf4e" stroke-width="0.7"/>
<circle cx="80.5" cy="230.7" r="3.8" fill="#7fcb4f" stroke="#65a23f" stroke-width="0.7"/>
<circle cx="110.0" cy="214.4" r="3.8" fill="#7fcb4f" stroke="#65a23f" stroke-width="0.7"/>
<circle cx="139.0" cy="213.1" r="3.8" fill="#7fcb4f" stroke="#65a23f" stroke-width="0.7"/>
<circle cx="168.5" cy="112.7" r="3.8" fill="#7fcb4f" stroke="#65a23f" stroke-width="0.7"/>
<circle cx="197.5" cy="100.4" r="3.8" fill="#7fcb4f" stroke="#65a23f" stroke-width="0.7"/>
<circle cx="80.5" cy="244.3" r="3.8" fill="#3f923f" stroke="#327432" stroke-width="0.7"/>
<circle cx="110.0" cy="228.0" r="3.8" fill="#3f923f" stroke="#327432" stroke-width="0.7"/>
<circle cx="139.0" cy="229.4" r="3.8" fill="#3f923f" stroke="#327432" stroke-width="0.7"/>
<circle cx="168.5" cy="164.2" r="3.8" fill="#3f923f" stroke="#327432" stroke-width="0.7"/>
<circle cx="197.5" cy="176.4" r="3.8" fill="#3f923f" stroke="#327432" stroke-width="0.7"/>
<line x1="246.3" y1="97.8" x2="261.3" y2="97.8" stroke="#4d6ca0" stroke-width="1.3"/>
<circle cx="253.8" cy="97.8" r="1.6" fill="#3b6fc6"/>
<text x="264.2" y="101.0" font-size="9" fill="#111" font-family='"Liberation Sans", sans-serif' textLength="18.2" lengthAdjust="spacingAndGlyphs">Saa3</text>
<line x1="246.3" y1="108.0" x2="261.3" y2="108.0" stroke="#96a5ca" stroke-width="1.3"/>
<circle cx="253.8" cy="108.0" r="1.6" fill="#8da6e3"/>
<text x="264.2" y="111.2" font-size="9" fill="#111" font-family='"Liberation Sans", sans-serif' textLength="55.6" lengthAdjust="spacingAndGlyphs">1300002K09Rik</text>
<line x1="246.3" y1="118.3" x2="261.3" y2="118.3" stroke="#7d76b3" stroke-width="1.3"/>
<circle cx="253.8" cy="118.3" r="1.6" fill="#7c70d6"/>
<text x="264.2" y="121.5" font-size="9" fill="#111" font-family='"Liberation Sans", sans-serif' textLength="23.9" lengthAdjust="spacingAndGlyphs">Mir145</text>
<line x1="246.3" y1="128.5" x2="261.3" y2="128.5" stroke="#6b4c98" stroke-width="1.3"/>
<circle cx="253.8" cy="128.5" r="1.6" fill="#7440bf"/>
<text x="264.2" y="131.7" font-size="9" fill="#111" font-family='"Liberation Sans", sans-serif' textLength="20.4" lengthAdjust="spacingAndGlyphs">Spta1</text>
<line x1="246.3" y1="138.7" x2="261.3" y2="138.7" stroke="#a07bbf" stroke-width="1.3"/>
<circle cx="253.8" cy="138.7" r="1.6" fill="#ad6fe0"/>
<text x="264.2" y="141.9" font-size="9" fill="#111" font-family='"Liberation Sans", sans-serif' textLength="22.3" lengthAdjust="spacingAndGlyphs">Trem2</text>
<line x1="246.3" y1="148.9" x2="261.3" y2="148.9" stroke="#854078" stroke-width="1.3"/>
<circle cx="253.8" cy="148.9" r="1.6" fill="#a22f8c"/>
<text x="264.2" y="152.1" font-size="9" fill="#111" font-family='"Liberation Sans", sans-serif' textLength="20.0" lengthAdjust="spacingAndGlyphs">Acot5</text>
<line x1="246.3" y1="159.2" x2="261.3" y2="159.2" stroke="#9c413e" stroke-width="1.3"/>
<circle cx="253.8" cy="159.2" r="1.6" fill="#c7302b"/>
<text x="264.2" y="162.4" font-size="9" fill="#111" font-family='"Liberation Sans", sans-serif' textLength="25.6" lengthAdjust="spacingAndGlyphs">Gpnmb</text>
<line x1="246.3" y1="169.4" x2="261.3" y2="169.4" stroke="#c1845a" stroke-width="1.3"/>
<circle cx="253.8" cy="169.4" r="1.6" fill="#e27b36"/>
<text x="264.2" y="172.6" font-size="9" fill="#111" font-family='"Liberation Sans", sans-serif' textLength="21.7" lengthAdjust="spacingAndGlyphs">Fzd10</text>
<line x1="246.3" y1="179.6" x2="261.3" y2="179.6" stroke="#cba569" stroke-width="1.3"/>
<circle cx="253.8" cy="179.6" r="1.6" fill="#e2a23f"/>
<text x="264.2" y="182.8" font-size="9" fill="#111" font-family='"Liberation Sans", sans-serif' textLength="30.0" lengthAdjust="spacingAndGlyphs">Gm6537</text>
<line x1="246.3" y1="189.9" x2="261.3" y2="189.9" stroke="#e5de96" stroke-width="1.3"/>
<circle cx="253.8" cy="189.9" r="1.6" fill="#eee36a"/>
<text x="264.2" y="193.1" font-size="9" fill="#111" font-family='"Liberation Sans", sans-serif' textLength="34.3" lengthAdjust="spacingAndGlyphs">Gm20878</text>
<line x1="246.3" y1="200.1" x2="261.3" y2="200.1" stroke="#d7e591" stroke-width="1.3"/>
<circle cx="253.8" cy="200.1" r="1.6" fill="#d7ef62"/>
<text x="264.2" y="203.3" font-size="9" fill="#111" font-family='"Liberation Sans", sans-serif' textLength="23.9" lengthAdjust="spacingAndGlyphs">Slc4a1</text>
<line x1="246.3" y1="210.3" x2="261.3" y2="210.3" stroke="#8ebc71" stroke-width="1.3"/>
<circle cx="253.8" cy="210.3" r="1.6" fill="#7fcb4f"/>
<text x="264.2" y="213.5" font-size="9" fill="#111" font-family='"Liberation Sans", sans-serif' textLength="23.9" lengthAdjust="spacingAndGlyphs">Slc7a3</text>
<line x1="246.3" y1="220.6" x2="261.3" y2="220.6" stroke="#528452" stroke-width="1.3"/>
<circle cx="253.8" cy="220.6" r="1.6" fill="#3f923f"/>
<text x="264.2" y="223.8" font-size="9" fill="#111" font-family='"Liberation Sans", sans-serif' textLength="17.4" lengthAdjust="spacingAndGlyphs">Fsbp</text>
<line x1="346.5" y1="19" x2="346.5" y2="253" stroke="#e4e4e4" stroke-width="2.5"/>
<line x1="400.5" y1="19" x2="400.5" y2="253" stroke="#5a5a5a" stroke-width="1.4"/>
<line x1="470" y1="285.5" x2="593.5" y2="285.5" stroke="#5a5a5a" stroke-width="1.4"/>
<line x1="516.2" y1="285.5" x2="516.2" y2="289" stroke="#5a5a5a" stroke-width="1"/>
<line x1="554.2" y1="285.5" x2="554.2" y2="289" stroke="#5a5a5a" stroke-width="1"/>
<line x1="593.2" y1="285.5" x2="593.2" y2="289" stroke="#5a5a5a" stroke-width="1"/>
<text x="493" y="299.4" text-anchor="end" font-size="9" fill="#444" font-family='"Liberation Sans", sans-serif'>Control</text>
<text x="554.3" y="299.4" text-anchor="middle" font-size="9" fill="#444" font-family='"Liberation Sans", sans-serif'>D/O</text>
<rect x="470" y="295.3" width="130" height="10" fill="#fff"/>
<line x1="396.5" y1="68" x2="400.5" y2="68" stroke="#5a5a5a" stroke-width="1.1"/>
<text x="394.5" y="71.8" text-anchor="end" font-size="10.5" fill="#222" font-family='"Liberation Sans", sans-serif'>4</text>
<line x1="396.5" y1="122" x2="400.5" y2="122" stroke="#5a5a5a" stroke-width="1.1"/>
<text x="394.5" y="125.8" text-anchor="end" font-size="10.5" fill="#222" font-family='"Liberation Sans", sans-serif'>2</text>
<line x1="396.5" y1="176" x2="400.5" y2="176" stroke="#5a5a5a" stroke-width="1.1"/>
<text x="394.5" y="179.8" text-anchor="end" font-size="10.5" fill="#222" font-family='"Liberation Sans", sans-serif'>0</text>
<line x1="396.5" y1="230" x2="400.5" y2="230" stroke="#5a5a5a" stroke-width="1.1"/>
<text x="394.5" y="233.8" text-anchor="end" font-size="10.5" fill="#222" font-family='"Liberation Sans", sans-serif'>-2</text>
<line x1="401" y1="176" x2="593.5" y2="176" stroke="#000" stroke-width="0.75" stroke-dasharray="1.2,0.8"/>
<text transform="translate(373.5,148.6) rotate(-90)" text-anchor="middle" font-size="11" font-weight="bold" fill="#111" font-family='"Liberation Sans", sans-serif' textLength="93.5" lengthAdjust="spacingAndGlyphs">Fold Change (log2)</text>
<polyline points="438.6,99.0 477.2,46.4 515.8,123.3 554.0,234.1" fill="none" stroke="#4d6ca0" stroke-width="1.3"/>
<polyline points="438.6,108.5 477.2,100.4 515.8,167.9 554.0,232.7" fill="none" stroke="#96a5ca" stroke-width="1.3"/>
<polyline points="438.6,109.8 477.2,113.9 515.8,162.5 554.0,248.9" fill="none" stroke="#7d76b3" stroke-width="1.3"/>
<polyline points="438.6,111.2 477.2,115.2 515.8,167.9 554.0,248.9" fill="none" stroke="#6b4c98" stroke-width="1.3"/>
<polyline points="438.6,112.5 477.2,120.7 515.8,159.8 554.0,265.1" fill="none" stroke="#a07bbf" stroke-width="1.3"/>
<polyline points="438.6,139.6 477.2,128.8 515.8,165.2 554.0,161.2" fill="none" stroke="#854078" stroke-width="1.3"/>
<polyline points="438.6,140.9 477.2,130.1 515.8,165.2 554.0,240.8" fill="none" stroke="#9c413e" stroke-width="1.3"/>
<polyline points="438.6,138.2 477.2,132.8 515.8,170.6 554.0,180.1" fill="none" stroke="#c1845a" stroke-width="1.3"/>
<polyline points="438.6,116.6 477.2,134.2 515.8,197.6 554.0,181.4" fill="none" stroke="#cba569" stroke-width="1.3"/>
<polyline points="438.6,213.8 477.2,135.5 515.8,101.8 554.0,185.4" fill="none" stroke="#e5de96" stroke-width="1.3"/>
<polyline points="438.6,132.8 477.2,138.2 515.8,173.3 554.0,190.8" fill="none" stroke="#d7e591" stroke-width="1.3"/>
<polyline points="438.6,143.6 477.2,143.6 515.8,176.0 554.0,151.7" fill="none" stroke="#8ebc71" stroke-width="1.3"/>
<polyline points="438.6,140.9 477.2,144.9 515.8,181.4 554.0,201.7" fill="none" stroke="#528452" stroke-width="1.3"/>
<circle cx="438.6" cy="99.0" r="3.6" fill="#3b6fc6" stroke="#2f589e" stroke-width="0.7"/>
<circle cx="477.2" cy="46.4" r="3.6" fill="#3b6fc6" stroke="#2f589e" stroke-width="0.7"/>
<circle cx="515.8" cy="123.3" r="3.6" fill="#3b6fc6" stroke="#2f589e" stroke-width="0.7"/>
<circle cx="554.0" cy="234.1" r="3.6" fill="#3b6fc6" stroke="#2f589e" stroke-width="0.7"/>
<circle cx="438.6" cy="108.5" r="3.6" fill="#8da6e3" stroke="#7084b5" stroke-width="0.7"/>
<circle cx="477.2" cy="100.4" r="3.6" fill="#8da6e3" stroke="#7084b5" stroke-width="0.7"/>
<circle cx="515.8" cy="167.9" r="3.6" fill="#8da6e3" stroke="#7084b5" stroke-width="0.7"/>
<circle cx="554.0" cy="232.7" r="3.6" fill="#8da6e3" stroke="#7084b5" stroke-width="0.7"/>
<circle cx="438.6" cy="109.8" r="3.6" fill="#7c70d6" stroke="#6359ab" stroke-width="0.7"/>
<circle cx="477.2" cy="113.9" r="3.6" fill="#7c70d6" stroke="#6359ab" stroke-width="0.7"/>
<circle cx="515.8" cy="162.5" r="3.6" fill="#7c70d6" stroke="#6359ab" stroke-width="0.7"/>
<circle cx="554.0" cy="248.9" r="3.6" fill="#7c70d6" stroke="#6359ab" stroke-width="0.7"/>
<circle cx="438.6" cy="111.2" r="3.6" fill="#7440bf" stroke="#5c3398" stroke-width="0.7"/>
<circle cx="477.2" cy="115.2" r="3.6" fill="#7440bf" stroke="#5c3398" stroke-width="0.7"/>
<circle cx="515.8" cy="167.9" r="3.6" fill="#7440bf" stroke="#5c3398" stroke-width="0.7"/>
<circle cx="554.0" cy="248.9" r="3.6" fill="#7440bf" stroke="#5c3398" stroke-width="0.7"/>
<circle cx="438.6" cy="112.5" r="3.6" fill="#ad6fe0" stroke="#8a58b3" stroke-width="0.7"/>
<circle cx="477.2" cy="120.7" r="3.6" fill="#ad6fe0" stroke="#8a58b3" stroke-width="0.7"/>
<circle cx="515.8" cy="159.8" r="3.6" fill="#ad6fe0" stroke="#8a58b3" stroke-width="0.7"/>
<circle cx="554.0" cy="265.1" r="3.6" fill="#ad6fe0" stroke="#8a58b3" stroke-width="0.7"/>
<circle cx="438.6" cy="139.6" r="3.6" fill="#a22f8c" stroke="#812570" stroke-width="0.7"/>
<circle cx="477.2" cy="128.8" r="3.6" fill="#a22f8c" stroke="#812570" stroke-width="0.7"/>
<circle cx="515.8" cy="165.2" r="3.6" fill="#a22f8c" stroke="#812570" stroke-width="0.7"/>
<circle cx="554.0" cy="161.2" r="3.6" fill="#a22f8c" stroke="#812570" stroke-width="0.7"/>
<circle cx="438.6" cy="140.9" r="3.6" fill="#c7302b" stroke="#9f2622" stroke-width="0.7"/>
<circle cx="477.2" cy="130.1" r="3.6" fill="#c7302b" stroke="#9f2622" stroke-width="0.7"/>
<circle cx="515.8" cy="165.2" r="3.6" fill="#c7302b" stroke="#9f2622" stroke-width="0.7"/>
<circle cx="554.0" cy="240.8" r="3.6" fill="#c7302b" stroke="#9f2622" stroke-width="0.7"/>
<circle cx="438.6" cy="138.2" r="3.6" fill="#e27b36" stroke="#b4622b" stroke-width="0.7"/>
<circle cx="477.2" cy="132.8" r="3.6" fill="#e27b36" stroke="#b4622b" stroke-width="0.7"/>
<circle cx="515.8" cy="170.6" r="3.6" fill="#e27b36" stroke="#b4622b" stroke-width="0.7"/>
<circle cx="554.0" cy="180.1" r="3.6" fill="#e27b36" stroke="#b4622b" stroke-width="0.7"/>
<circle cx="438.6" cy="116.6" r="3.6" fill="#e2a23f" stroke="#b48132" stroke-width="0.7"/>
<circle cx="477.2" cy="134.2" r="3.6" fill="#e2a23f" stroke="#b48132" stroke-width="0.7"/>
<circle cx="515.8" cy="197.6" r="3.6" fill="#e2a23f" stroke="#b48132" stroke-width="0.7"/>
<circle cx="554.0" cy="181.4" r="3.6" fill="#e2a23f" stroke="#b48132" stroke-width="0.7"/>
<circle cx="438.6" cy="213.8" r="3.6" fill="#eee36a" stroke="#beb554" stroke-width="0.7"/>
<circle cx="477.2" cy="135.5" r="3.6" fill="#eee36a" stroke="#beb554" stroke-width="0.7"/>
<circle cx="515.8" cy="101.8" r="3.6" fill="#eee36a" stroke="#beb554" stroke-width="0.7"/>
<circle cx="554.0" cy="185.4" r="3.6" fill="#eee36a" stroke="#beb554" stroke-width="0.7"/>
<circle cx="438.6" cy="132.8" r="3.6" fill="#d7ef62" stroke="#acbf4e" stroke-width="0.7"/>
<circle cx="477.2" cy="138.2" r="3.6" fill="#d7ef62" stroke="#acbf4e" stroke-width="0.7"/>
<circle cx="515.8" cy="173.3" r="3.6" fill="#d7ef62" stroke="#acbf4e" stroke-width="0.7"/>
<circle cx="554.0" cy="190.8" r="3.6" fill="#d7ef62" stroke="#acbf4e" stroke-width="0.7"/>
<circle cx="438.6" cy="143.6" r="3.6" fill="#7fcb4f" stroke="#65a23f" stroke-width="0.7"/>
<circle cx="477.2" cy="143.6" r="3.6" fill="#7fcb4f" stroke="#65a23f" stroke-width="0.7"/>
<circle cx="515.8" cy="176.0" r="3.6" fill="#7fcb4f" stroke="#65a23f" stroke-width="0.7"/>
<circle cx="554.0" cy="151.7" r="3.6" fill="#7fcb4f" stroke="#65a23f" stroke-width="0.7"/>
<circle cx="438.6" cy="140.9" r="3.6" fill="#3f923f" stroke="#327432" stroke-width="0.7"/>
<circle cx="477.2" cy="144.9" r="3.6" fill="#3f923f" stroke="#327432" stroke-width="0.7"/>
<circle cx="515.8" cy="181.4" r="3.6" fill="#3f923f" stroke="#327432" stroke-width="0.7"/>
<circle cx="554.0" cy="201.7" r="3.6" fill="#3f923f" stroke="#327432" stroke-width="0.7"/>
<line x1="611.8" y1="97.8" x2="626.8" y2="97.8" stroke="#4d6ca0" stroke-width="1.3"/>
<circle cx="619.3" cy="97.8" r="1.6" fill="#3b6fc6"/>
<text x="630.6" y="101.0" font-size="9" fill="#111" font-family='"Liberation Sans", sans-serif' textLength="18.2" lengthAdjust="spacingAndGlyphs">Saa3</text>
<line x1="611.8" y1="108.0" x2="626.8" y2="108.0" stroke="#96a5ca" stroke-width="1.3"/>
<circle cx="619.3" cy="108.0" r="1.6" fill="#8da6e3"/>
<text x="630.6" y="111.2" font-size="9" fill="#111" font-family='"Liberation Sans", sans-serif' textLength="55.6" lengthAdjust="spacingAndGlyphs">1300002K09Rik</text>
<line x1="611.8" y1="118.3" x2="626.8" y2="118.3" stroke="#7d76b3" stroke-width="1.3"/>
<circle cx="619.3" cy="118.3" r="1.6" fill="#7c70d6"/>
<text x="630.6" y="121.5" font-size="9" fill="#111" font-family='"Liberation Sans", sans-serif' textLength="23.9" lengthAdjust="spacingAndGlyphs">Mir145</text>
<line x1="611.8" y1="128.5" x2="626.8" y2="128.5" stroke="#6b4c98" stroke-width="1.3"/>
<circle cx="619.3" cy="128.5" r="1.6" fill="#7440bf"/>
<text x="630.6" y="131.7" font-size="9" fill="#111" font-family='"Liberation Sans", sans-serif' textLength="20.4" lengthAdjust="spacingAndGlyphs">Spta1</text>
<line x1="611.8" y1="138.7" x2="626.8" y2="138.7" stroke="#a07bbf" stroke-width="1.3"/>
<circle cx="619.3" cy="138.7" r="1.6" fill="#ad6fe0"/>
<text x="630.6" y="141.9" font-size="9" fill="#111" font-family='"Liberation Sans", sans-serif' textLength="22.3" lengthAdjust="spacingAndGlyphs">Trem2</text>
<line x1="611.8" y1="148.9" x2="626.8" y2="148.9" stroke="#854078" stroke-width="1.3"/>
<circle cx="619.3" cy="148.9" r="1.6" fill="#a22f8c"/>
<text x="630.6" y="152.1" font-size="9" fill="#111" font-family='"Liberation Sans", sans-serif' textLength="20.0" lengthAdjust="spacingAndGlyphs">Acot5</text>
<line x1="611.8" y1="159.2" x2="626.8" y2="159.2" stroke="#9c413e" stroke-width="1.3"/>
<circle cx="619.3" cy="159.2" r="1.6" fill="#c7302b"/>
<text x="630.6" y="162.4" font-size="9" fill="#111" font-family='"Liberation Sans", sans-serif' textLength="25.6" lengthAdjust="spacingAndGlyphs">Gpnmb</text>
<line x1="611.8" y1="169.4" x2="626.8" y2="169.4" stroke="#c1845a" stroke-width="1.3"/>
<circle cx="619.3" cy="169.4" r="1.6" fill="#e27b36"/>
<text x="630.6" y="172.6" font-size="9" fill="#111" font-family='"Liberation Sans", sans-serif' textLength="21.7" lengthAdjust="spacingAndGlyphs">Fzd10</text>
<line x1="611.8" y1="179.6" x2="626.8" y2="179.6" stroke="#cba569" stroke-width="1.3"/>
<circle cx="619.3" cy="179.6" r="1.6" fill="#e2a23f"/>
<text x="630.6" y="182.8" font-size="9" fill="#111" font-family='"Liberation Sans", sans-serif' textLength="30.0" lengthAdjust="spacingAndGlyphs">Gm6537</text>
<line x1="611.8" y1="189.9" x2="626.8" y2="189.9" stroke="#e5de96" stroke-width="1.3"/>
<circle cx="619.3" cy="189.9" r="1.6" fill="#eee36a"/>
<text x="630.6" y="193.1" font-size="9" fill="#111" font-family='"Liberation Sans", sans-serif' textLength="34.3" lengthAdjust="spacingAndGlyphs">Gm20878</text>
<line x1="611.8" y1="200.1" x2="626.8" y2="200.1" stroke="#d7e591" stroke-width="1.3"/>
<circle cx="619.3" cy="200.1" r="1.6" fill="#d7ef62"/>
<text x="630.6" y="203.3" font-size="9" fill="#111" font-family='"Liberation Sans", sans-serif' textLength="23.9" lengthAdjust="spacingAndGlyphs">Slc4a1</text>
<line x1="611.8" y1="210.3" x2="626.8" y2="210.3" stroke="#8ebc71" stroke-width="1.3"/>
<circle cx="619.3" cy="210.3" r="1.6" fill="#7fcb4f"/>
<text x="630.6" y="213.5" font-size="9" fill="#111" font-family='"Liberation Sans", sans-serif' textLength="23.9" lengthAdjust="spacingAndGlyphs">Slc7a3</text>
<line x1="611.8" y1="220.6" x2="626.8" y2="220.6" stroke="#528452" stroke-width="1.3"/>
<circle cx="619.3" cy="220.6" r="1.6" fill="#3f923f"/>
<text x="630.6" y="223.8" font-size="9" fill="#111" font-family='"Liberation Sans", sans-serif' textLength="17.4" lengthAdjust="spacingAndGlyphs">Fsbp</text>
<rect x="663.2" y="90" width="5" height="140" fill="#fff"/>
<rect x="211" y="252.5" width="24" height="247" fill="#fff"/>
<g stroke="#8c8c8c" stroke-width="0.75" fill="none"><path d="M231.0,416.5H224.3V419.8H231.0"/><path d="M231.0,458.9H224.2V462.1H231.0"/><path d="M231.0,432.8H226.4V436.1H231.0"/><path d="M231.0,393.7H223.8V396.9H231.0"/><path d="M231.0,442.6H225.1V445.8H231.0"/><path d="M231.0,449.1H224.7V452.4H231.0"/><path d="M231.0,312.2H224.1V315.4H231.0"/><path d="M231.0,260.0H225.0V263.3H231.0"/><path d="M231.0,364.3H225.3V367.6H231.0"/><path d="M231.0,468.7H226.3V471.9H231.0"/><path d="M231.0,400.2H225.8V403.5H231.0"/><path d="M231.0,377.4H224.1V380.6H231.0"/><path d="M231.0,302.4H223.9V305.7H231.0"/><path d="M231.0,485.0H224.3V488.2H231.0"/><path d="M231.0,276.3H225.9V279.6H231.0"/><path d="M231.0,318.7H226.7V322.0H231.0"/><path d="M231.0,344.8H225.9V348.0H231.0"/><path d="M231.0,289.4H223.5V292.6H231.0"/><path d="M231.0,478.4H224.1V481.7H231.0"/><path d="M231.0,335.0H225.9V338.3H231.0"/><path d="M231.0,354.6H225.3V357.8H231.0"/><path d="M231.0,282.8H226.2V286.1H231.0"/><path d="M231.0,423.0H225.7V426.3H231.0"/><path d="M231.0,328.5H226.2V331.7H231.0"/><path d="M231.0,494.7H224.8V498.0H231.0"/><path d="M231.0,269.8H223.4V273.1H231.0"/><path d="M231.0,406.7H226.5V410.0H231.0"/><path d="M231.0,383.9H224.6V387.2H231.0"/><path d="M231.0,370.9H224.5V374.1H231.0"/><path d="M231.0,295.9H224.8V299.1H231.0"/><path d="M231.0,253.5H224.8V256.8H231.0"/><path d="M226.7,320.3H224.2V325.2H231.0"/><path d="M226.4,434.4H222.4V439.3H231.0"/><path d="M225.9,346.4H222.5V351.3H231.0"/><path d="M226.3,470.3H222.7V475.2H231.0"/><path d="M225.9,336.6H223.0V341.5H231.0"/><path d="M225.9,277.9H222.8V284.5H226.2"/><path d="M231.0,413.2H222.3V418.1H224.3"/><path d="M225.0,261.6H222.8V266.5H231.0"/><path d="M225.8,401.8H223.1V408.4H226.5"/><path d="M231.0,308.9H220.7V313.8H224.1"/><path d="M224.1,379.0H220.7V385.5H224.6"/><path d="M225.7,424.6H223.0V429.5H231.0"/><path d="M231.0,361.1H221.6V366.0H225.3"/><path d="M224.2,322.8H222.2V330.1H226.2"/><path d="M224.7,450.7H221.5V455.6H231.0"/><path d="M231.0,491.5H221.6V496.4H224.8"/><path d="M223.8,395.3H220.7V405.1H223.1"/><path d="M224.8,297.5H221.7V304.0H223.9"/><path d="M224.1,480.1H222.4V486.6H224.3"/><path d="M223.0,339.1H221.0V348.9H222.5"/><path d="M224.2,460.5H220.7V465.4H231.0"/><path d="M223.0,427.1H221.3V436.9H222.4"/><path d="M223.4,271.4H221.4V281.2H222.8"/><path d="M222.7,472.7H221.5V483.3H222.4"/><path d="M221.6,363.5H219.6V372.5H224.5"/><path d="M224.8,255.1H220.7V264.1H222.8"/><path d="M220.7,382.3H218.7V390.4H231.0"/><path d="M223.5,291.0H218.9V300.8H221.7"/><path d="M220.7,259.6H218.7V276.3H221.4"/><path d="M221.3,432.0H220.4V444.2H225.1"/><path d="M220.4,438.1H219.0V453.2H221.5"/><path d="M221.5,478.0H219.6V493.9H221.6"/><path d="M220.7,311.4H218.7V326.4H222.2"/><path d="M225.3,356.2H218.3V368.0H219.6"/><path d="M220.7,400.2H219.6V415.7H222.3"/><path d="M218.9,295.9H216.8V318.9H218.7"/><path d="M219.0,445.6H217.7V463.0H220.7"/><path d="M219.6,407.9H216.7V454.3H217.7"/><path d="M221.0,344.0H216.8V362.1H218.3"/><path d="M216.8,307.4H215.6V353.0H216.8"/><path d="M218.7,386.3H216.2V431.1H216.7"/><path d="M216.2,408.7H214.9V486.0H219.6"/><path d="M215.6,330.2H213.9V447.4H214.9"/><path d="M218.7,268.0H213.0V388.8H213.9"/></g>
<g shape-rendering="crispEdges"><rect x="234.70" y="252.90" width="31.00" height="3.92" fill="rgb(78,162,82)"/>
<rect x="234.70" y="256.42" width="31.00" height="3.92" fill="rgb(92,185,97)"/>
<rect x="234.70" y="259.94" width="31.00" height="3.92" fill="rgb(89,178,93)"/>
<rect x="234.70" y="263.46" width="31.00" height="3.92" fill="rgb(94,188,98)"/>
<rect x="234.70" y="266.99" width="31.00" height="3.92" fill="rgb(93,187,97)"/>
<rect x="234.70" y="270.51" width="31.00" height="3.92" fill="rgb(42,99,48)"/>
<rect x="234.70" y="274.03" width="31.00" height="3.92" fill="rgb(49,116,55)"/>
<rect x="234.70" y="277.55" width="31.00" height="3.92" fill="rgb(31,72,38)"/>
<rect x="234.70" y="281.07" width="31.00" height="3.92" fill="rgb(32,76,37)"/>
<rect x="234.70" y="284.59" width="31.00" height="3.92" fill="rgb(57,135,63)"/>
<rect x="234.70" y="288.11" width="31.00" height="3.92" fill="rgb(87,187,93)"/>
<rect x="234.70" y="291.64" width="31.00" height="3.92" fill="rgb(68,148,74)"/>
<rect x="234.70" y="295.16" width="31.00" height="3.92" fill="rgb(38,91,46)"/>
<rect x="234.70" y="298.68" width="31.00" height="3.92" fill="rgb(35,76,39)"/>
<rect x="234.70" y="302.20" width="31.00" height="3.92" fill="rgb(45,95,49)"/>
<rect x="234.70" y="305.72" width="31.00" height="3.92" fill="rgb(55,131,61)"/>
<rect x="234.70" y="309.24" width="31.00" height="3.92" fill="rgb(62,148,69)"/>
<rect x="234.70" y="312.76" width="31.00" height="3.92" fill="rgb(66,156,72)"/>
<rect x="234.70" y="316.29" width="31.00" height="3.92" fill="rgb(42,100,50)"/>
<rect x="234.70" y="319.81" width="31.00" height="3.92" fill="rgb(22,27,23)"/>
<rect x="234.70" y="323.33" width="31.00" height="3.92" fill="rgb(25,41,28)"/>
<rect x="234.70" y="326.85" width="31.00" height="3.92" fill="rgb(43,102,49)"/>
<rect x="234.70" y="330.37" width="31.00" height="3.92" fill="rgb(64,152,71)"/>
<rect x="234.70" y="333.89" width="31.00" height="3.92" fill="rgb(35,83,43)"/>
<rect x="234.70" y="337.41" width="31.00" height="3.92" fill="rgb(56,132,62)"/>
<rect x="234.70" y="340.94" width="31.00" height="3.92" fill="rgb(39,92,45)"/>
<rect x="234.70" y="344.46" width="31.00" height="3.92" fill="rgb(51,120,58)"/>
<rect x="234.70" y="347.98" width="31.00" height="3.92" fill="rgb(19,19,19)"/>
<rect x="234.70" y="351.50" width="31.00" height="3.92" fill="rgb(21,21,21)"/>
<rect x="234.70" y="355.02" width="31.00" height="3.92" fill="rgb(36,83,44)"/>
<rect x="234.70" y="358.54" width="31.00" height="3.92" fill="rgb(30,71,37)"/>
<rect x="234.70" y="362.06" width="31.00" height="3.92" fill="rgb(27,61,32)"/>
<rect x="234.70" y="365.59" width="31.00" height="3.92" fill="rgb(76,163,81)"/>
<rect x="234.70" y="369.11" width="31.00" height="3.92" fill="rgb(48,109,56)"/>
<rect x="234.70" y="372.63" width="31.00" height="3.92" fill="rgb(58,123,64)"/>
<rect x="234.70" y="376.15" width="31.00" height="3.92" fill="rgb(101,203,106)"/>
<rect x="234.70" y="379.67" width="31.00" height="3.92" fill="rgb(100,200,104)"/>
<rect x="234.70" y="383.19" width="31.00" height="3.92" fill="rgb(48,111,53)"/>
<rect x="234.70" y="386.71" width="31.00" height="3.92" fill="rgb(23,37,24)"/>
<rect x="234.70" y="390.24" width="31.00" height="3.92" fill="rgb(183,48,43)"/>
<rect x="234.70" y="393.76" width="31.00" height="3.92" fill="rgb(222,58,52)"/>
<rect x="234.70" y="397.28" width="31.00" height="3.92" fill="rgb(196,52,46)"/>
<rect x="234.70" y="400.80" width="31.00" height="3.92" fill="rgb(206,54,48)"/>
<rect x="234.70" y="404.32" width="31.00" height="3.92" fill="rgb(178,46,42)"/>
<rect x="234.70" y="407.84" width="31.00" height="3.92" fill="rgb(154,37,37)"/>
<rect x="234.70" y="411.36" width="31.00" height="3.92" fill="rgb(106,25,25)"/>
<rect x="234.70" y="414.89" width="31.00" height="3.92" fill="rgb(155,40,36)"/>
<rect x="234.70" y="418.41" width="31.00" height="3.92" fill="rgb(204,54,47)"/>
<rect x="234.70" y="421.93" width="31.00" height="3.92" fill="rgb(112,27,26)"/>
<rect x="234.70" y="425.45" width="31.00" height="3.92" fill="rgb(134,31,31)"/>
<rect x="234.70" y="428.97" width="31.00" height="3.92" fill="rgb(160,38,38)"/>
<rect x="234.70" y="432.49" width="31.00" height="3.92" fill="rgb(169,40,40)"/>
<rect x="234.70" y="436.01" width="31.00" height="3.92" fill="rgb(167,40,40)"/>
<rect x="234.70" y="439.54" width="31.00" height="3.92" fill="rgb(131,31,31)"/>
<rect x="234.70" y="443.06" width="31.00" height="3.92" fill="rgb(93,21,21)"/>
<rect x="234.70" y="446.58" width="31.00" height="3.92" fill="rgb(96,22,22)"/>
<rect x="234.70" y="450.10" width="31.00" height="3.92" fill="rgb(132,30,30)"/>
<rect x="234.70" y="453.62" width="31.00" height="3.92" fill="rgb(55,19,19)"/>
<rect x="234.70" y="457.14" width="31.00" height="3.92" fill="rgb(49,17,17)"/>
<rect x="234.70" y="460.66" width="31.00" height="3.92" fill="rgb(91,21,21)"/>
<rect x="234.70" y="464.19" width="31.00" height="3.92" fill="rgb(39,21,21)"/>
<rect x="234.70" y="467.71" width="31.00" height="3.92" fill="rgb(18,18,18)"/>
<rect x="234.70" y="471.23" width="31.00" height="3.92" fill="rgb(22,41,25)"/>
<rect x="234.70" y="474.75" width="31.00" height="3.92" fill="rgb(21,48,26)"/>
<rect x="234.70" y="478.27" width="31.00" height="3.92" fill="rgb(21,48,26)"/>
<rect x="234.70" y="481.79" width="31.00" height="3.92" fill="rgb(97,79,46)"/>
<rect x="234.70" y="485.31" width="31.00" height="3.92" fill="rgb(167,40,40)"/>
<rect x="234.70" y="488.84" width="31.00" height="3.92" fill="rgb(182,44,43)"/>
<rect x="234.70" y="492.36" width="31.00" height="3.92" fill="rgb(158,39,37)"/>
<rect x="234.70" y="495.88" width="31.00" height="3.92" fill="rgb(188,47,45)"/>
<rect x="265.30" y="252.90" width="31.20" height="3.92" fill="rgb(54,127,60)"/>
<rect x="265.30" y="256.42" width="31.20" height="3.92" fill="rgb(32,77,39)"/>
<rect x="265.30" y="259.94" width="31.20" height="3.92" fill="rgb(42,104,48)"/>
<rect x="265.30" y="263.46" width="31.20" height="3.92" fill="rgb(57,138,64)"/>
<rect x="265.30" y="266.99" width="31.20" height="3.92" fill="rgb(58,137,65)"/>
<rect x="265.30" y="270.51" width="31.20" height="3.92" fill="rgb(49,109,55)"/>
<rect x="265.30" y="274.03" width="31.20" height="3.92" fill="rgb(80,172,86)"/>
<rect x="265.30" y="277.55" width="31.20" height="3.92" fill="rgb(53,114,59)"/>
<rect x="265.30" y="281.07" width="31.20" height="3.92" fill="rgb(96,193,101)"/>
<rect x="265.30" y="284.59" width="31.20" height="3.92" fill="rgb(88,176,92)"/>
<rect x="265.30" y="288.11" width="31.20" height="3.92" fill="rgb(51,112,58)"/>
<rect x="265.30" y="291.64" width="31.20" height="3.92" fill="rgb(67,159,74)"/>
<rect x="265.30" y="295.16" width="31.20" height="3.92" fill="rgb(42,100,50)"/>
<rect x="265.30" y="298.68" width="31.20" height="3.92" fill="rgb(28,66,35)"/>
<rect x="265.30" y="302.20" width="31.20" height="3.92" fill="rgb(26,35,21)"/>
<rect x="265.30" y="305.72" width="31.20" height="3.92" fill="rgb(37,15,14)"/>
<rect x="265.30" y="309.24" width="31.20" height="3.92" fill="rgb(42,99,49)"/>
<rect x="265.30" y="312.76" width="31.20" height="3.92" fill="rgb(54,127,59)"/>
<rect x="265.30" y="316.29" width="31.20" height="3.92" fill="rgb(67,148,72)"/>
<rect x="265.30" y="319.81" width="31.20" height="3.92" fill="rgb(88,178,92)"/>
<rect x="265.30" y="323.33" width="31.20" height="3.92" fill="rgb(59,125,65)"/>
<rect x="265.30" y="326.85" width="31.20" height="3.92" fill="rgb(24,57,30)"/>
<rect x="265.30" y="330.37" width="31.20" height="3.92" fill="rgb(18,42,23)"/>
<rect x="265.30" y="333.89" width="31.20" height="3.92" fill="rgb(22,52,28)"/>
<rect x="265.30" y="337.41" width="31.20" height="3.92" fill="rgb(20,45,24)"/>
<rect x="265.30" y="340.94" width="31.20" height="3.92" fill="rgb(50,118,56)"/>
<rect x="265.30" y="344.46" width="31.20" height="3.92" fill="rgb(86,182,91)"/>
<rect x="265.30" y="347.98" width="31.20" height="3.92" fill="rgb(89,178,93)"/>
<rect x="265.30" y="351.50" width="31.20" height="3.92" fill="rgb(84,173,89)"/>
<rect x="265.30" y="355.02" width="31.20" height="3.92" fill="rgb(61,144,67)"/>
<rect x="265.30" y="358.54" width="31.20" height="3.92" fill="rgb(59,141,66)"/>
<rect x="265.30" y="362.06" width="31.20" height="3.92" fill="rgb(34,81,42)"/>
<rect x="265.30" y="365.59" width="31.20" height="3.92" fill="rgb(58,129,65)"/>
<rect x="265.30" y="369.11" width="31.20" height="3.92" fill="rgb(91,185,95)"/>
<rect x="265.30" y="372.63" width="31.20" height="3.92" fill="rgb(101,203,106)"/>
<rect x="265.30" y="376.15" width="31.20" height="3.92" fill="rgb(54,116,60)"/>
<rect x="265.30" y="379.67" width="31.20" height="3.92" fill="rgb(33,78,41)"/>
<rect x="265.30" y="383.19" width="31.20" height="3.92" fill="rgb(35,84,44)"/>
<rect x="265.30" y="386.71" width="31.20" height="3.92" fill="rgb(21,31,23)"/>
<rect x="265.30" y="390.24" width="31.20" height="3.92" fill="rgb(67,19,19)"/>
<rect x="265.30" y="393.76" width="31.20" height="3.92" fill="rgb(129,30,30)"/>
<rect x="265.30" y="397.28" width="31.20" height="3.92" fill="rgb(148,35,35)"/>
<rect x="265.30" y="400.80" width="31.20" height="3.92" fill="rgb(111,26,26)"/>
<rect x="265.30" y="404.32" width="31.20" height="3.92" fill="rgb(135,32,32)"/>
<rect x="265.30" y="407.84" width="31.20" height="3.92" fill="rgb(126,31,31)"/>
<rect x="265.30" y="411.36" width="31.20" height="3.92" fill="rgb(42,16,16)"/>
<rect x="265.30" y="414.89" width="31.20" height="3.92" fill="rgb(127,31,31)"/>
<rect x="265.30" y="418.41" width="31.20" height="3.92" fill="rgb(161,39,38)"/>
<rect x="265.30" y="421.93" width="31.20" height="3.92" fill="rgb(205,54,48)"/>
<rect x="265.30" y="425.45" width="31.20" height="3.92" fill="rgb(137,33,33)"/>
<rect x="265.30" y="428.97" width="31.20" height="3.92" fill="rgb(112,26,26)"/>
<rect x="265.30" y="432.49" width="31.20" height="3.92" fill="rgb(161,41,37)"/>
<rect x="265.30" y="436.01" width="31.20" height="3.92" fill="rgb(208,55,49)"/>
<rect x="265.30" y="439.54" width="31.20" height="3.92" fill="rgb(192,51,45)"/>
<rect x="265.30" y="443.06" width="31.20" height="3.92" fill="rgb(209,55,49)"/>
<rect x="265.30" y="446.58" width="31.20" height="3.92" fill="rgb(211,56,49)"/>
<rect x="265.30" y="450.10" width="31.20" height="3.92" fill="rgb(177,46,41)"/>
<rect x="265.30" y="453.62" width="31.20" height="3.92" fill="rgb(178,47,42)"/>
<rect x="265.30" y="457.14" width="31.20" height="3.92" fill="rgb(147,44,39)"/>
<rect x="265.30" y="460.66" width="31.20" height="3.92" fill="rgb(22,22,22)"/>
<rect x="265.30" y="464.19" width="31.20" height="3.92" fill="rgb(33,19,19)"/>
<rect x="265.30" y="467.71" width="31.20" height="3.92" fill="rgb(117,27,27)"/>
<rect x="265.30" y="471.23" width="31.20" height="3.92" fill="rgb(157,37,37)"/>
<rect x="265.30" y="474.75" width="31.20" height="3.92" fill="rgb(82,23,23)"/>
<rect x="265.30" y="478.27" width="31.20" height="3.92" fill="rgb(42,15,15)"/>
<rect x="265.30" y="481.79" width="31.20" height="3.92" fill="rgb(85,20,20)"/>
<rect x="265.30" y="485.31" width="31.20" height="3.92" fill="rgb(87,20,20)"/>
<rect x="265.30" y="488.84" width="31.20" height="3.92" fill="rgb(24,20,20)"/>
<rect x="265.30" y="492.36" width="31.20" height="3.92" fill="rgb(112,33,32)"/>
<rect x="265.30" y="495.88" width="31.20" height="3.92" fill="rgb(170,42,40)"/>
<rect x="296.10" y="252.90" width="31.30" height="3.92" fill="rgb(22,51,27)"/>
<rect x="296.10" y="256.42" width="31.30" height="3.92" fill="rgb(52,123,57)"/>
<rect x="296.10" y="259.94" width="31.30" height="3.92" fill="rgb(51,122,58)"/>
<rect x="296.10" y="263.46" width="31.30" height="3.92" fill="rgb(31,63,36)"/>
<rect x="296.10" y="266.99" width="31.30" height="3.92" fill="rgb(19,20,19)"/>
<rect x="296.10" y="270.51" width="31.30" height="3.92" fill="rgb(31,74,39)"/>
<rect x="296.10" y="274.03" width="31.30" height="3.92" fill="rgb(41,100,49)"/>
<rect x="296.10" y="277.55" width="31.30" height="3.92" fill="rgb(32,69,36)"/>
<rect x="296.10" y="281.07" width="31.30" height="3.92" fill="rgb(19,23,20)"/>
<rect x="296.10" y="284.59" width="31.30" height="3.92" fill="rgb(33,78,41)"/>
<rect x="296.10" y="288.11" width="31.30" height="3.92" fill="rgb(42,31,22)"/>
<rect x="296.10" y="291.64" width="31.30" height="3.92" fill="rgb(34,41,25)"/>
<rect x="296.10" y="295.16" width="31.30" height="3.92" fill="rgb(70,144,75)"/>
<rect x="296.10" y="298.68" width="31.30" height="3.92" fill="rgb(88,176,92)"/>
<rect x="296.10" y="302.20" width="31.30" height="3.92" fill="rgb(97,196,101)"/>
<rect x="296.10" y="305.72" width="31.30" height="3.92" fill="rgb(60,141,66)"/>
<rect x="296.10" y="309.24" width="31.30" height="3.92" fill="rgb(66,156,72)"/>
<rect x="296.10" y="312.76" width="31.30" height="3.92" fill="rgb(44,104,50)"/>
<rect x="296.10" y="316.29" width="31.30" height="3.92" fill="rgb(50,119,56)"/>
<rect x="296.10" y="319.81" width="31.30" height="3.92" fill="rgb(52,124,59)"/>
<rect x="296.10" y="323.33" width="31.30" height="3.92" fill="rgb(39,92,47)"/>
<rect x="296.10" y="326.85" width="31.30" height="3.92" fill="rgb(60,142,66)"/>
<rect x="296.10" y="330.37" width="31.30" height="3.92" fill="rgb(56,134,62)"/>
<rect x="296.10" y="333.89" width="31.30" height="3.92" fill="rgb(82,166,86)"/>
<rect x="296.10" y="337.41" width="31.30" height="3.92" fill="rgb(63,118,65)"/>
<rect x="296.10" y="340.94" width="31.30" height="3.92" fill="rgb(18,18,18)"/>
<rect x="296.10" y="344.46" width="31.30" height="3.92" fill="rgb(30,58,34)"/>
<rect x="296.10" y="347.98" width="31.30" height="3.92" fill="rgb(36,86,45)"/>
<rect x="296.10" y="351.50" width="31.30" height="3.92" fill="rgb(61,108,52)"/>
<rect x="296.10" y="355.02" width="31.30" height="3.92" fill="rgb(85,19,19)"/>
<rect x="296.10" y="358.54" width="31.30" height="3.92" fill="rgb(96,22,22)"/>
<rect x="296.10" y="362.06" width="31.30" height="3.92" fill="rgb(93,21,21)"/>
<rect x="296.10" y="365.59" width="31.30" height="3.92" fill="rgb(96,22,22)"/>
<rect x="296.10" y="369.11" width="31.30" height="3.92" fill="rgb(52,16,16)"/>
<rect x="296.10" y="372.63" width="31.30" height="3.92" fill="rgb(36,24,18)"/>
<rect x="296.10" y="376.15" width="31.30" height="3.92" fill="rgb(32,76,39)"/>
<rect x="296.10" y="379.67" width="31.30" height="3.92" fill="rgb(36,85,44)"/>
<rect x="296.10" y="383.19" width="31.30" height="3.92" fill="rgb(48,104,54)"/>
<rect x="296.10" y="386.71" width="31.30" height="3.92" fill="rgb(88,177,92)"/>
<rect x="296.10" y="390.24" width="31.30" height="3.92" fill="rgb(41,18,17)"/>
<rect x="296.10" y="393.76" width="31.30" height="3.92" fill="rgb(85,20,20)"/>
<rect x="296.10" y="397.28" width="31.30" height="3.92" fill="rgb(88,20,20)"/>
<rect x="296.10" y="400.80" width="31.30" height="3.92" fill="rgb(63,60,36)"/>
<rect x="296.10" y="404.32" width="31.30" height="3.92" fill="rgb(44,58,33)"/>
<rect x="296.10" y="407.84" width="31.30" height="3.92" fill="rgb(79,18,18)"/>
<rect x="296.10" y="411.36" width="31.30" height="3.92" fill="rgb(45,22,22)"/>
<rect x="296.10" y="414.89" width="31.30" height="3.92" fill="rgb(21,21,21)"/>
<rect x="296.10" y="418.41" width="31.30" height="3.92" fill="rgb(22,22,22)"/>
<rect x="296.10" y="421.93" width="31.30" height="3.92" fill="rgb(20,22,20)"/>
<rect x="296.10" y="425.45" width="31.30" height="3.92" fill="rgb(49,121,56)"/>
<rect x="296.10" y="428.97" width="31.30" height="3.92" fill="rgb(62,147,68)"/>
<rect x="296.10" y="432.49" width="31.30" height="3.92" fill="rgb(53,126,59)"/>
<rect x="296.10" y="436.01" width="31.30" height="3.92" fill="rgb(36,84,44)"/>
<rect x="296.10" y="439.54" width="31.30" height="3.92" fill="rgb(28,66,35)"/>
<rect x="296.10" y="443.06" width="31.30" height="3.92" fill="rgb(21,49,27)"/>
<rect x="296.10" y="446.58" width="31.30" height="3.92" fill="rgb(20,20,20)"/>
<rect x="296.10" y="450.10" width="31.30" height="3.92" fill="rgb(18,18,18)"/>
<rect x="296.10" y="453.62" width="31.30" height="3.92" fill="rgb(38,22,22)"/>
<rect x="296.10" y="457.14" width="31.30" height="3.92" fill="rgb(186,49,43)"/>
<rect x="296.10" y="460.66" width="31.30" height="3.92" fill="rgb(179,47,42)"/>
<rect x="296.10" y="464.19" width="31.30" height="3.92" fill="rgb(149,38,34)"/>
<rect x="296.10" y="467.71" width="31.30" height="3.92" fill="rgb(85,19,19)"/>
<rect x="296.10" y="471.23" width="31.30" height="3.92" fill="rgb(89,21,21)"/>
<rect x="296.10" y="474.75" width="31.30" height="3.92" fill="rgb(37,14,14)"/>
<rect x="296.10" y="478.27" width="31.30" height="3.92" fill="rgb(50,18,18)"/>
<rect x="296.10" y="481.79" width="31.30" height="3.92" fill="rgb(161,38,38)"/>
<rect x="296.10" y="485.31" width="31.30" height="3.92" fill="rgb(169,40,40)"/>
<rect x="296.10" y="488.84" width="31.30" height="3.92" fill="rgb(139,33,33)"/>
<rect x="296.10" y="492.36" width="31.30" height="3.92" fill="rgb(98,23,23)"/>
<rect x="296.10" y="495.88" width="31.30" height="3.92" fill="rgb(91,21,21)"/>
<rect x="327.00" y="252.90" width="30.80" height="3.92" fill="rgb(17,17,17)"/>
<rect x="327.00" y="256.42" width="30.80" height="3.92" fill="rgb(37,18,18)"/>
<rect x="327.00" y="259.94" width="30.80" height="3.92" fill="rgb(38,14,14)"/>
<rect x="327.00" y="263.46" width="30.80" height="3.92" fill="rgb(39,15,15)"/>
<rect x="327.00" y="266.99" width="30.80" height="3.92" fill="rgb(43,17,17)"/>
<rect x="327.00" y="270.51" width="30.80" height="3.92" fill="rgb(34,80,42)"/>
<rect x="327.00" y="274.03" width="30.80" height="3.92" fill="rgb(27,64,34)"/>
<rect x="327.00" y="277.55" width="30.80" height="3.92" fill="rgb(23,53,28)"/>
<rect x="327.00" y="281.07" width="30.80" height="3.92" fill="rgb(20,24,21)"/>
<rect x="327.00" y="284.59" width="30.80" height="3.92" fill="rgb(19,19,19)"/>
<rect x="327.00" y="288.11" width="30.80" height="3.92" fill="rgb(34,15,15)"/>
<rect x="327.00" y="291.64" width="30.80" height="3.92" fill="rgb(40,18,18)"/>
<rect x="327.00" y="295.16" width="30.80" height="3.92" fill="rgb(19,19,19)"/>
<rect x="327.00" y="298.68" width="30.80" height="3.92" fill="rgb(30,61,36)"/>
<rect x="327.00" y="302.20" width="30.80" height="3.92" fill="rgb(32,77,40)"/>
<rect x="327.00" y="305.72" width="30.80" height="3.92" fill="rgb(24,44,27)"/>
<rect x="327.00" y="309.24" width="30.80" height="3.92" fill="rgb(37,17,17)"/>
<rect x="327.00" y="312.76" width="30.80" height="3.92" fill="rgb(45,17,17)"/>
<rect x="327.00" y="316.29" width="30.80" height="3.92" fill="rgb(38,14,14)"/>
<rect x="327.00" y="319.81" width="30.80" height="3.92" fill="rgb(39,61,34)"/>
<rect x="327.00" y="323.33" width="30.80" height="3.92" fill="rgb(55,129,62)"/>
<rect x="327.00" y="326.85" width="30.80" height="3.92" fill="rgb(65,154,71)"/>
<rect x="327.00" y="330.37" width="30.80" height="3.92" fill="rgb(65,155,72)"/>
<rect x="327.00" y="333.89" width="30.80" height="3.92" fill="rgb(53,126,59)"/>
<rect x="327.00" y="337.41" width="30.80" height="3.92" fill="rgb(92,186,96)"/>
<rect x="327.00" y="340.94" width="30.80" height="3.92" fill="rgb(100,200,104)"/>
<rect x="327.00" y="344.46" width="30.80" height="3.92" fill="rgb(59,134,64)"/>
<rect x="327.00" y="347.98" width="30.80" height="3.92" fill="rgb(44,104,51)"/>
<rect x="327.00" y="351.50" width="30.80" height="3.92" fill="rgb(43,96,50)"/>
<rect x="327.00" y="355.02" width="30.80" height="3.92" fill="rgb(92,185,96)"/>
<rect x="327.00" y="358.54" width="30.80" height="3.92" fill="rgb(90,180,94)"/>
<rect x="327.00" y="362.06" width="30.80" height="3.92" fill="rgb(89,180,93)"/>
<rect x="327.00" y="365.59" width="30.80" height="3.92" fill="rgb(65,153,71)"/>
<rect x="327.00" y="369.11" width="30.80" height="3.92" fill="rgb(35,84,42)"/>
<rect x="327.00" y="372.63" width="30.80" height="3.92" fill="rgb(28,66,35)"/>
<rect x="327.00" y="376.15" width="30.80" height="3.92" fill="rgb(19,43,23)"/>
<rect x="327.00" y="379.67" width="30.80" height="3.92" fill="rgb(19,43,23)"/>
<rect x="327.00" y="383.19" width="30.80" height="3.92" fill="rgb(54,110,58)"/>
<rect x="327.00" y="386.71" width="30.80" height="3.92" fill="rgb(102,204,106)"/>
<rect x="327.00" y="390.24" width="30.80" height="3.92" fill="rgb(43,71,44)"/>
<rect x="327.00" y="393.76" width="30.80" height="3.92" fill="rgb(60,18,18)"/>
<rect x="327.00" y="397.28" width="30.80" height="3.92" fill="rgb(90,21,21)"/>
<rect x="327.00" y="400.80" width="30.80" height="3.92" fill="rgb(59,17,17)"/>
<rect x="327.00" y="404.32" width="30.80" height="3.92" fill="rgb(40,15,15)"/>
<rect x="327.00" y="407.84" width="30.80" height="3.92" fill="rgb(92,25,25)"/>
<rect x="327.00" y="411.36" width="30.80" height="3.92" fill="rgb(159,38,38)"/>
<rect x="327.00" y="414.89" width="30.80" height="3.92" fill="rgb(68,26,26)"/>
<rect x="327.00" y="418.41" width="30.80" height="3.92" fill="rgb(19,19,19)"/>
<rect x="327.00" y="421.93" width="30.80" height="3.92" fill="rgb(54,19,19)"/>
<rect x="327.00" y="425.45" width="30.80" height="3.92" fill="rgb(86,20,20)"/>
<rect x="327.00" y="428.97" width="30.80" height="3.92" fill="rgb(81,19,19)"/>
<rect x="327.00" y="432.49" width="30.80" height="3.92" fill="rgb(81,21,21)"/>
<rect x="327.00" y="436.01" width="30.80" height="3.92" fill="rgb(21,21,21)"/>
<rect x="327.00" y="439.54" width="30.80" height="3.92" fill="rgb(57,19,19)"/>
<rect x="327.00" y="443.06" width="30.80" height="3.92" fill="rgb(80,18,18)"/>
<rect x="327.00" y="446.58" width="30.80" height="3.92" fill="rgb(83,19,19)"/>
<rect x="327.00" y="450.10" width="30.80" height="3.92" fill="rgb(145,35,35)"/>
<rect x="327.00" y="453.62" width="30.80" height="3.92" fill="rgb(157,37,37)"/>
<rect x="327.00" y="457.14" width="30.80" height="3.92" fill="rgb(106,25,25)"/>
<rect x="327.00" y="460.66" width="30.80" height="3.92" fill="rgb(87,20,20)"/>
<rect x="327.00" y="464.19" width="30.80" height="3.92" fill="rgb(154,39,36)"/>
<rect x="327.00" y="467.71" width="30.80" height="3.92" fill="rgb(205,54,48)"/>
<rect x="327.00" y="471.23" width="30.80" height="3.92" fill="rgb(196,52,46)"/>
<rect x="327.00" y="474.75" width="30.80" height="3.92" fill="rgb(193,51,45)"/>
<rect x="327.00" y="478.27" width="30.80" height="3.92" fill="rgb(138,34,32)"/>
<rect x="327.00" y="481.79" width="30.80" height="3.92" fill="rgb(94,22,22)"/>
<rect x="327.00" y="485.31" width="30.80" height="3.92" fill="rgb(66,18,18)"/>
<rect x="327.00" y="488.84" width="30.80" height="3.92" fill="rgb(43,16,16)"/>
<rect x="327.00" y="492.36" width="30.80" height="3.92" fill="rgb(41,15,15)"/>
<rect x="327.00" y="495.88" width="30.80" height="3.92" fill="rgb(39,15,15)"/>
<rect x="357.40" y="252.90" width="31.70" height="3.92" fill="rgb(155,37,37)"/>
<rect x="357.40" y="256.42" width="31.70" height="3.92" fill="rgb(161,38,38)"/>
<rect x="357.40" y="259.94" width="31.70" height="3.92" fill="rgb(164,42,38)"/>
<rect x="357.40" y="263.46" width="31.70" height="3.92" fill="rgb(196,52,46)"/>
<rect x="357.40" y="266.99" width="31.70" height="3.92" fill="rgb(196,52,46)"/>
<rect x="357.40" y="270.51" width="31.70" height="3.92" fill="rgb(193,49,45)"/>
<rect x="357.40" y="274.03" width="31.70" height="3.92" fill="rgb(170,40,40)"/>
<rect x="357.40" y="277.55" width="31.70" height="3.92" fill="rgb(92,21,21)"/>
<rect x="357.40" y="281.07" width="31.70" height="3.92" fill="rgb(123,29,29)"/>
<rect x="357.40" y="284.59" width="31.70" height="3.92" fill="rgb(164,39,39)"/>
<rect x="357.40" y="288.11" width="31.70" height="3.92" fill="rgb(145,34,34)"/>
<rect x="357.40" y="291.64" width="31.70" height="3.92" fill="rgb(152,36,36)"/>
<rect x="357.40" y="295.16" width="31.70" height="3.92" fill="rgb(100,23,23)"/>
<rect x="357.40" y="298.68" width="31.70" height="3.92" fill="rgb(96,22,22)"/>
<rect x="357.40" y="302.20" width="31.70" height="3.92" fill="rgb(97,22,22)"/>
<rect x="357.40" y="305.72" width="31.70" height="3.92" fill="rgb(168,40,40)"/>
<rect x="357.40" y="309.24" width="31.70" height="3.92" fill="rgb(203,53,47)"/>
<rect x="357.40" y="312.76" width="31.70" height="3.92" fill="rgb(208,55,48)"/>
<rect x="357.40" y="316.29" width="31.70" height="3.92" fill="rgb(211,55,49)"/>
<rect x="357.40" y="319.81" width="31.70" height="3.92" fill="rgb(102,24,23)"/>
<rect x="357.40" y="323.33" width="31.70" height="3.92" fill="rgb(108,26,26)"/>
<rect x="357.40" y="326.85" width="31.70" height="3.92" fill="rgb(42,16,16)"/>
<rect x="357.40" y="330.37" width="31.70" height="3.92" fill="rgb(37,14,14)"/>
<rect x="357.40" y="333.89" width="31.70" height="3.92" fill="rgb(69,17,17)"/>
<rect x="357.40" y="337.41" width="31.70" height="3.92" fill="rgb(26,21,21)"/>
<rect x="357.40" y="340.94" width="31.70" height="3.92" fill="rgb(17,17,17)"/>
<rect x="357.40" y="344.46" width="31.70" height="3.92" fill="rgb(18,18,18)"/>
<rect x="357.40" y="347.98" width="31.70" height="3.92" fill="rgb(18,18,18)"/>
<rect x="357.40" y="351.50" width="31.70" height="3.92" fill="rgb(77,22,22)"/>
<rect x="357.40" y="355.02" width="31.70" height="3.92" fill="rgb(41,15,15)"/>
<rect x="357.40" y="358.54" width="31.70" height="3.92" fill="rgb(37,14,14)"/>
<rect x="357.40" y="362.06" width="31.70" height="3.92" fill="rgb(45,17,17)"/>
<rect x="357.40" y="365.59" width="31.70" height="3.92" fill="rgb(38,14,14)"/>
<rect x="357.40" y="369.11" width="31.70" height="3.92" fill="rgb(45,17,17)"/>
<rect x="357.40" y="372.63" width="31.70" height="3.92" fill="rgb(43,16,16)"/>
<rect x="357.40" y="376.15" width="31.70" height="3.92" fill="rgb(45,17,17)"/>
<rect x="357.40" y="379.67" width="31.70" height="3.92" fill="rgb(46,17,17)"/>
<rect x="357.40" y="383.19" width="31.70" height="3.92" fill="rgb(42,16,16)"/>
<rect x="357.40" y="386.71" width="31.70" height="3.92" fill="rgb(45,17,17)"/>
<rect x="357.40" y="390.24" width="31.70" height="3.92" fill="rgb(81,160,84)"/>
<rect x="357.40" y="393.76" width="31.70" height="3.92" fill="rgb(97,195,102)"/>
<rect x="357.40" y="397.28" width="31.70" height="3.92" fill="rgb(86,173,90)"/>
<rect x="357.40" y="400.80" width="31.70" height="3.92" fill="rgb(35,84,44)"/>
<rect x="357.40" y="404.32" width="31.70" height="3.92" fill="rgb(37,87,44)"/>
<rect x="357.40" y="407.84" width="31.70" height="3.92" fill="rgb(64,152,71)"/>
<rect x="357.40" y="411.36" width="31.70" height="3.92" fill="rgb(73,166,79)"/>
<rect x="357.40" y="414.89" width="31.70" height="3.92" fill="rgb(82,164,85)"/>
<rect x="357.40" y="418.41" width="31.70" height="3.92" fill="rgb(88,176,91)"/>
<rect x="357.40" y="421.93" width="31.70" height="3.92" fill="rgb(92,185,96)"/>
<rect x="357.40" y="425.45" width="31.70" height="3.92" fill="rgb(65,155,72)"/>
<rect x="357.40" y="428.97" width="31.70" height="3.92" fill="rgb(68,151,74)"/>
<rect x="357.40" y="432.49" width="31.70" height="3.92" fill="rgb(72,155,77)"/>
<rect x="357.40" y="436.01" width="31.70" height="3.92" fill="rgb(73,157,78)"/>
<rect x="357.40" y="439.54" width="31.70" height="3.92" fill="rgb(80,172,86)"/>
<rect x="357.40" y="443.06" width="31.70" height="3.92" fill="rgb(82,178,89)"/>
<rect x="357.40" y="446.58" width="31.70" height="3.92" fill="rgb(55,123,62)"/>
<rect x="357.40" y="450.10" width="31.70" height="3.92" fill="rgb(32,77,40)"/>
<rect x="357.40" y="453.62" width="31.70" height="3.92" fill="rgb(42,101,50)"/>
<rect x="357.40" y="457.14" width="31.70" height="3.92" fill="rgb(58,138,64)"/>
<rect x="357.40" y="460.66" width="31.70" height="3.92" fill="rgb(59,139,64)"/>
<rect x="357.40" y="464.19" width="31.70" height="3.92" fill="rgb(17,17,17)"/>
<rect x="357.40" y="467.71" width="31.70" height="3.92" fill="rgb(20,20,20)"/>
<rect x="357.40" y="471.23" width="31.70" height="3.92" fill="rgb(22,22,22)"/>
<rect x="357.40" y="474.75" width="31.70" height="3.92" fill="rgb(19,19,19)"/>
<rect x="357.40" y="478.27" width="31.70" height="3.92" fill="rgb(21,21,21)"/>
<rect x="357.40" y="481.79" width="31.70" height="3.92" fill="rgb(52,95,54)"/>
<rect x="357.40" y="485.31" width="31.70" height="3.92" fill="rgb(96,192,100)"/>
<rect x="357.40" y="488.84" width="31.70" height="3.92" fill="rgb(97,195,101)"/>
<rect x="357.40" y="492.36" width="31.70" height="3.92" fill="rgb(95,191,100)"/>
<rect x="357.40" y="495.88" width="31.70" height="3.92" fill="rgb(92,184,96)"/>
<rect x="388.70" y="252.90" width="31.00" height="3.92" fill="rgb(153,36,36)"/>
<rect x="388.70" y="256.42" width="31.00" height="3.92" fill="rgb(96,22,22)"/>
<rect x="388.70" y="259.94" width="31.00" height="3.92" fill="rgb(102,23,23)"/>
<rect x="388.70" y="263.46" width="31.00" height="3.92" fill="rgb(111,25,25)"/>
<rect x="388.70" y="266.99" width="31.00" height="3.92" fill="rgb(110,25,25)"/>
<rect x="388.70" y="270.51" width="31.00" height="3.92" fill="rgb(87,23,23)"/>
<rect x="388.70" y="274.03" width="31.00" height="3.92" fill="rgb(46,17,17)"/>
<rect x="388.70" y="277.55" width="31.00" height="3.92" fill="rgb(42,16,16)"/>
<rect x="388.70" y="281.07" width="31.00" height="3.92" fill="rgb(108,28,28)"/>
<rect x="388.70" y="284.59" width="31.00" height="3.92" fill="rgb(162,38,38)"/>
<rect x="388.70" y="288.11" width="31.00" height="3.92" fill="rgb(46,22,22)"/>
<rect x="388.70" y="291.64" width="31.00" height="3.92" fill="rgb(77,26,26)"/>
<rect x="388.70" y="295.16" width="31.00" height="3.92" fill="rgb(142,34,34)"/>
<rect x="388.70" y="298.68" width="31.00" height="3.92" fill="rgb(136,31,31)"/>
<rect x="388.70" y="302.20" width="31.00" height="3.92" fill="rgb(116,26,26)"/>
<rect x="388.70" y="305.72" width="31.00" height="3.92" fill="rgb(114,26,26)"/>
<rect x="388.70" y="309.24" width="31.00" height="3.92" fill="rgb(153,36,36)"/>
<rect x="388.70" y="312.76" width="31.00" height="3.92" fill="rgb(170,41,41)"/>
<rect x="388.70" y="316.29" width="31.00" height="3.92" fill="rgb(136,32,32)"/>
<rect x="388.70" y="319.81" width="31.00" height="3.92" fill="rgb(94,22,22)"/>
<rect x="388.70" y="323.33" width="31.00" height="3.92" fill="rgb(88,20,20)"/>
<rect x="388.70" y="326.85" width="31.00" height="3.92" fill="rgb(97,22,22)"/>
<rect x="388.70" y="330.37" width="31.00" height="3.92" fill="rgb(91,21,21)"/>
<rect x="388.70" y="333.89" width="31.00" height="3.92" fill="rgb(84,19,19)"/>
<rect x="388.70" y="337.41" width="31.00" height="3.92" fill="rgb(92,21,21)"/>
<rect x="388.70" y="340.94" width="31.00" height="3.92" fill="rgb(136,32,32)"/>
<rect x="388.70" y="344.46" width="31.00" height="3.92" fill="rgb(133,31,31)"/>
<rect x="388.70" y="347.98" width="31.00" height="3.92" fill="rgb(87,20,20)"/>
<rect x="388.70" y="351.50" width="31.00" height="3.92" fill="rgb(35,18,18)"/>
<rect x="388.70" y="355.02" width="31.00" height="3.92" fill="rgb(19,19,19)"/>
<rect x="388.70" y="358.54" width="31.00" height="3.92" fill="rgb(19,19,19)"/>
<rect x="388.70" y="362.06" width="31.00" height="3.92" fill="rgb(21,21,21)"/>
<rect x="388.70" y="365.59" width="31.00" height="3.92" fill="rgb(18,18,18)"/>
<rect x="388.70" y="369.11" width="31.00" height="3.92" fill="rgb(22,22,22)"/>
<rect x="388.70" y="372.63" width="31.00" height="3.92" fill="rgb(68,20,20)"/>
<rect x="388.70" y="376.15" width="31.00" height="3.92" fill="rgb(92,21,21)"/>
<rect x="388.70" y="379.67" width="31.00" height="3.92" fill="rgb(89,20,20)"/>
<rect x="388.70" y="383.19" width="31.00" height="3.92" fill="rgb(99,23,23)"/>
<rect x="388.70" y="386.71" width="31.00" height="3.92" fill="rgb(165,39,39)"/>
<rect x="388.70" y="390.24" width="31.00" height="3.92" fill="rgb(68,68,41)"/>
<rect x="388.70" y="393.76" width="31.00" height="3.92" fill="rgb(33,79,41)"/>
<rect x="388.70" y="397.28" width="31.00" height="3.92" fill="rgb(46,108,53)"/>
<rect x="388.70" y="400.80" width="31.00" height="3.92" fill="rgb(66,156,72)"/>
<rect x="388.70" y="404.32" width="31.00" height="3.92" fill="rgb(75,161,80)"/>
<rect x="388.70" y="407.84" width="31.00" height="3.92" fill="rgb(97,194,101)"/>
<rect x="388.70" y="411.36" width="31.00" height="3.92" fill="rgb(102,204,106)"/>
<rect x="388.70" y="414.89" width="31.00" height="3.92" fill="rgb(27,59,32)"/>
<rect x="388.70" y="418.41" width="31.00" height="3.92" fill="rgb(19,44,24)"/>
<rect x="388.70" y="421.93" width="31.00" height="3.92" fill="rgb(19,44,24)"/>
<rect x="388.70" y="425.45" width="31.00" height="3.92" fill="rgb(22,50,27)"/>
<rect x="388.70" y="428.97" width="31.00" height="3.92" fill="rgb(21,50,27)"/>
<rect x="388.70" y="432.49" width="31.00" height="3.92" fill="rgb(26,48,27)"/>
<rect x="388.70" y="436.01" width="31.00" height="3.92" fill="rgb(45,17,17)"/>
<rect x="388.70" y="439.54" width="31.00" height="3.92" fill="rgb(39,15,15)"/>
<rect x="388.70" y="443.06" width="31.00" height="3.92" fill="rgb(38,14,14)"/>
<rect x="388.70" y="446.58" width="31.00" height="3.92" fill="rgb(39,15,15)"/>
<rect x="388.70" y="450.10" width="31.00" height="3.92" fill="rgb(38,14,14)"/>
<rect x="388.70" y="453.62" width="31.00" height="3.92" fill="rgb(44,16,16)"/>
<rect x="388.70" y="457.14" width="31.00" height="3.92" fill="rgb(30,32,26)"/>
<rect x="388.70" y="460.66" width="31.00" height="3.92" fill="rgb(100,201,105)"/>
<rect x="388.70" y="464.19" width="31.00" height="3.92" fill="rgb(86,173,90)"/>
<rect x="388.70" y="467.71" width="31.00" height="3.92" fill="rgb(100,200,104)"/>
<rect x="388.70" y="471.23" width="31.00" height="3.92" fill="rgb(51,110,57)"/>
<rect x="388.70" y="474.75" width="31.00" height="3.92" fill="rgb(33,78,41)"/>
<rect x="388.70" y="478.27" width="31.00" height="3.92" fill="rgb(35,84,44)"/>
<rect x="388.70" y="481.79" width="31.00" height="3.92" fill="rgb(24,57,30)"/>
<rect x="388.70" y="485.31" width="31.00" height="3.92" fill="rgb(18,43,23)"/>
<rect x="388.70" y="488.84" width="31.00" height="3.92" fill="rgb(22,51,28)"/>
<rect x="388.70" y="492.36" width="31.00" height="3.92" fill="rgb(19,45,24)"/>
<rect x="388.70" y="495.88" width="31.00" height="3.92" fill="rgb(20,46,25)"/>
<rect x="419.30" y="252.90" width="30.30" height="3.92" fill="rgb(42,16,16)"/>
<rect x="419.30" y="256.42" width="30.30" height="3.92" fill="rgb(43,16,16)"/>
<rect x="419.30" y="259.94" width="30.30" height="3.92" fill="rgb(34,14,14)"/>
<rect x="419.30" y="263.46" width="30.30" height="3.92" fill="rgb(19,19,19)"/>
<rect x="419.30" y="266.99" width="30.30" height="3.92" fill="rgb(19,19,19)"/>
<rect x="419.30" y="270.51" width="30.30" height="3.92" fill="rgb(19,19,19)"/>
<rect x="419.30" y="274.03" width="30.30" height="3.92" fill="rgb(47,19,19)"/>
<rect x="419.30" y="277.55" width="30.30" height="3.92" fill="rgb(91,21,21)"/>
<rect x="419.30" y="281.07" width="30.30" height="3.92" fill="rgb(112,26,26)"/>
<rect x="419.30" y="284.59" width="30.30" height="3.92" fill="rgb(118,27,27)"/>
<rect x="419.30" y="288.11" width="30.30" height="3.92" fill="rgb(123,28,28)"/>
<rect x="419.30" y="291.64" width="30.30" height="3.92" fill="rgb(43,38,24)"/>
<rect x="419.30" y="295.16" width="30.30" height="3.92" fill="rgb(19,45,24)"/>
<rect x="419.30" y="298.68" width="30.30" height="3.92" fill="rgb(21,49,27)"/>
<rect x="419.30" y="302.20" width="30.30" height="3.92" fill="rgb(19,43,23)"/>
<rect x="419.30" y="305.72" width="30.30" height="3.92" fill="rgb(22,36,24)"/>
<rect x="419.30" y="309.24" width="30.30" height="3.92" fill="rgb(22,46,27)"/>
<rect x="419.30" y="312.76" width="30.30" height="3.92" fill="rgb(18,43,23)"/>
<rect x="419.30" y="316.29" width="30.30" height="3.92" fill="rgb(33,77,40)"/>
<rect x="419.30" y="319.81" width="30.30" height="3.92" fill="rgb(39,21,17)"/>
<rect x="419.30" y="323.33" width="30.30" height="3.92" fill="rgb(44,17,17)"/>
<rect x="419.30" y="326.85" width="30.30" height="3.92" fill="rgb(113,27,27)"/>
<rect x="419.30" y="330.37" width="30.30" height="3.92" fill="rgb(116,26,26)"/>
<rect x="419.30" y="333.89" width="30.30" height="3.92" fill="rgb(127,29,29)"/>
<rect x="419.30" y="337.41" width="30.30" height="3.92" fill="rgb(113,26,26)"/>
<rect x="419.30" y="340.94" width="30.30" height="3.92" fill="rgb(96,22,22)"/>
<rect x="419.30" y="344.46" width="30.30" height="3.92" fill="rgb(119,28,28)"/>
<rect x="419.30" y="347.98" width="30.30" height="3.92" fill="rgb(163,39,39)"/>
<rect x="419.30" y="351.50" width="30.30" height="3.92" fill="rgb(208,54,49)"/>
<rect x="419.30" y="355.02" width="30.30" height="3.92" fill="rgb(208,55,48)"/>
<rect x="419.30" y="358.54" width="30.30" height="3.92" fill="rgb(159,38,38)"/>
<rect x="419.30" y="362.06" width="30.30" height="3.92" fill="rgb(139,33,33)"/>
<rect x="419.30" y="365.59" width="30.30" height="3.92" fill="rgb(153,36,36)"/>
<rect x="419.30" y="369.11" width="30.30" height="3.92" fill="rgb(148,35,35)"/>
<rect x="419.30" y="372.63" width="30.30" height="3.92" fill="rgb(162,38,38)"/>
<rect x="419.30" y="376.15" width="30.30" height="3.92" fill="rgb(160,38,38)"/>
<rect x="419.30" y="379.67" width="30.30" height="3.92" fill="rgb(156,37,37)"/>
<rect x="419.30" y="383.19" width="30.30" height="3.92" fill="rgb(138,33,33)"/>
<rect x="419.30" y="386.71" width="30.30" height="3.92" fill="rgb(20,20,20)"/>
<rect x="419.30" y="390.24" width="30.30" height="3.92" fill="rgb(31,65,36)"/>
<rect x="419.30" y="393.76" width="30.30" height="3.92" fill="rgb(31,73,38)"/>
<rect x="419.30" y="397.28" width="30.30" height="3.92" fill="rgb(47,112,55)"/>
<rect x="419.30" y="400.80" width="30.30" height="3.92" fill="rgb(63,149,69)"/>
<rect x="419.30" y="404.32" width="30.30" height="3.92" fill="rgb(55,130,60)"/>
<rect x="419.30" y="407.84" width="30.30" height="3.92" fill="rgb(45,106,53)"/>
<rect x="419.30" y="411.36" width="30.30" height="3.92" fill="rgb(31,73,38)"/>
<rect x="419.30" y="414.89" width="30.30" height="3.92" fill="rgb(39,89,46)"/>
<rect x="419.30" y="418.41" width="30.30" height="3.92" fill="rgb(96,193,101)"/>
<rect x="419.30" y="421.93" width="30.30" height="3.92" fill="rgb(94,188,98)"/>
<rect x="419.30" y="425.45" width="30.30" height="3.92" fill="rgb(93,186,97)"/>
<rect x="419.30" y="428.97" width="30.30" height="3.92" fill="rgb(84,178,90)"/>
<rect x="419.30" y="432.49" width="30.30" height="3.92" fill="rgb(77,166,83)"/>
<rect x="419.30" y="436.01" width="30.30" height="3.92" fill="rgb(74,160,80)"/>
<rect x="419.30" y="439.54" width="30.30" height="3.92" fill="rgb(71,154,77)"/>
<rect x="419.30" y="443.06" width="30.30" height="3.92" fill="rgb(69,150,75)"/>
<rect x="419.30" y="446.58" width="30.30" height="3.92" fill="rgb(82,176,88)"/>
<rect x="419.30" y="450.10" width="30.30" height="3.92" fill="rgb(82,178,89)"/>
<rect x="419.30" y="453.62" width="30.30" height="3.92" fill="rgb(78,169,84)"/>
<rect x="419.30" y="457.14" width="30.30" height="3.92" fill="rgb(50,41,27)"/>
<rect x="419.30" y="460.66" width="30.30" height="3.92" fill="rgb(40,15,15)"/>
<rect x="419.30" y="464.19" width="30.30" height="3.92" fill="rgb(39,15,15)"/>
<rect x="419.30" y="467.71" width="30.30" height="3.92" fill="rgb(40,15,15)"/>
<rect x="419.30" y="471.23" width="30.30" height="3.92" fill="rgb(64,145,68)"/>
<rect x="419.30" y="474.75" width="30.30" height="3.92" fill="rgb(54,128,59)"/>
<rect x="419.30" y="478.27" width="30.30" height="3.92" fill="rgb(27,41,28)"/>
<rect x="419.30" y="481.79" width="30.30" height="3.92" fill="rgb(18,18,18)"/>
<rect x="419.30" y="485.31" width="30.30" height="3.92" fill="rgb(41,82,44)"/>
<rect x="419.30" y="488.84" width="30.30" height="3.92" fill="rgb(58,138,64)"/>
<rect x="419.30" y="492.36" width="30.30" height="3.92" fill="rgb(23,31,23)"/>
<rect x="419.30" y="495.88" width="30.30" height="3.92" fill="rgb(19,19,19)"/>
<rect x="449.20" y="252.90" width="30.20" height="3.92" fill="rgb(123,28,28)"/>
<rect x="449.20" y="256.42" width="30.20" height="3.92" fill="rgb(129,29,29)"/>
<rect x="449.20" y="259.94" width="30.20" height="3.92" fill="rgb(117,27,27)"/>
<rect x="449.20" y="263.46" width="30.20" height="3.92" fill="rgb(129,29,29)"/>
<rect x="449.20" y="266.99" width="30.20" height="3.92" fill="rgb(81,19,19)"/>
<rect x="449.20" y="270.51" width="30.20" height="3.92" fill="rgb(85,19,19)"/>
<rect x="449.20" y="274.03" width="30.20" height="3.92" fill="rgb(177,46,41)"/>
<rect x="449.20" y="277.55" width="30.20" height="3.92" fill="rgb(181,48,42)"/>
<rect x="449.20" y="281.07" width="30.20" height="3.92" fill="rgb(170,41,40)"/>
<rect x="449.20" y="284.59" width="30.20" height="3.92" fill="rgb(157,38,38)"/>
<rect x="449.20" y="288.11" width="30.20" height="3.92" fill="rgb(38,14,14)"/>
<rect x="449.20" y="291.64" width="30.20" height="3.92" fill="rgb(96,26,26)"/>
<rect x="449.20" y="295.16" width="30.20" height="3.92" fill="rgb(172,43,41)"/>
<rect x="449.20" y="298.68" width="30.20" height="3.92" fill="rgb(186,46,44)"/>
<rect x="449.20" y="302.20" width="30.20" height="3.92" fill="rgb(189,47,45)"/>
<rect x="449.20" y="305.72" width="30.20" height="3.92" fill="rgb(186,46,44)"/>
<rect x="449.20" y="309.24" width="30.20" height="3.92" fill="rgb(110,26,26)"/>
<rect x="449.20" y="312.76" width="30.20" height="3.92" fill="rgb(82,19,19)"/>
<rect x="449.20" y="316.29" width="30.20" height="3.92" fill="rgb(161,42,37)"/>
<rect x="449.20" y="319.81" width="30.20" height="3.92" fill="rgb(185,49,43)"/>
<rect x="449.20" y="323.33" width="30.20" height="3.92" fill="rgb(201,53,47)"/>
<rect x="449.20" y="326.85" width="30.20" height="3.92" fill="rgb(203,53,47)"/>
<rect x="449.20" y="330.37" width="30.20" height="3.92" fill="rgb(185,49,43)"/>
<rect x="449.20" y="333.89" width="30.20" height="3.92" fill="rgb(188,49,44)"/>
<rect x="449.20" y="337.41" width="30.20" height="3.92" fill="rgb(168,40,40)"/>
<rect x="449.20" y="340.94" width="30.20" height="3.92" fill="rgb(136,32,32)"/>
<rect x="449.20" y="344.46" width="30.20" height="3.92" fill="rgb(206,53,48)"/>
<rect x="449.20" y="347.98" width="30.20" height="3.92" fill="rgb(218,57,51)"/>
<rect x="449.20" y="351.50" width="30.20" height="3.92" fill="rgb(132,32,30)"/>
<rect x="449.20" y="355.02" width="30.20" height="3.92" fill="rgb(97,22,22)"/>
<rect x="449.20" y="358.54" width="30.20" height="3.92" fill="rgb(155,37,37)"/>
<rect x="449.20" y="362.06" width="30.20" height="3.92" fill="rgb(157,37,37)"/>
<rect x="449.20" y="365.59" width="30.20" height="3.92" fill="rgb(158,38,38)"/>
<rect x="449.20" y="369.11" width="30.20" height="3.92" fill="rgb(171,41,41)"/>
<rect x="449.20" y="372.63" width="30.20" height="3.92" fill="rgb(169,41,40)"/>
<rect x="449.20" y="376.15" width="30.20" height="3.92" fill="rgb(190,50,44)"/>
<rect x="449.20" y="379.67" width="30.20" height="3.92" fill="rgb(187,47,44)"/>
<rect x="449.20" y="383.19" width="30.20" height="3.92" fill="rgb(178,45,42)"/>
<rect x="449.20" y="386.71" width="30.20" height="3.92" fill="rgb(204,54,48)"/>
<rect x="449.20" y="390.24" width="30.20" height="3.92" fill="rgb(128,155,86)"/>
<rect x="449.20" y="393.76" width="30.20" height="3.92" fill="rgb(81,162,84)"/>
<rect x="449.20" y="397.28" width="30.20" height="3.92" fill="rgb(75,155,81)"/>
<rect x="449.20" y="400.80" width="30.20" height="3.92" fill="rgb(35,83,43)"/>
<rect x="449.20" y="404.32" width="30.20" height="3.92" fill="rgb(33,79,41)"/>
<rect x="449.20" y="407.84" width="30.20" height="3.92" fill="rgb(31,67,37)"/>
<rect x="449.20" y="411.36" width="30.20" height="3.92" fill="rgb(19,19,19)"/>
<rect x="449.20" y="414.89" width="30.20" height="3.92" fill="rgb(18,18,18)"/>
<rect x="449.20" y="418.41" width="30.20" height="3.92" fill="rgb(20,20,20)"/>
<rect x="449.20" y="421.93" width="30.20" height="3.92" fill="rgb(17,17,17)"/>
<rect x="449.20" y="425.45" width="30.20" height="3.92" fill="rgb(20,20,20)"/>
<rect x="449.20" y="428.97" width="30.20" height="3.92" fill="rgb(50,111,55)"/>
<rect x="449.20" y="432.49" width="30.20" height="3.92" fill="rgb(60,142,66)"/>
<rect x="449.20" y="436.01" width="30.20" height="3.92" fill="rgb(59,140,65)"/>
<rect x="449.20" y="439.54" width="30.20" height="3.92" fill="rgb(37,88,46)"/>
<rect x="449.20" y="443.06" width="30.20" height="3.92" fill="rgb(37,87,45)"/>
<rect x="449.20" y="446.58" width="30.20" height="3.92" fill="rgb(70,152,76)"/>
<rect x="449.20" y="450.10" width="30.20" height="3.92" fill="rgb(83,179,89)"/>
<rect x="449.20" y="453.62" width="30.20" height="3.92" fill="rgb(80,172,86)"/>
<rect x="449.20" y="457.14" width="30.20" height="3.92" fill="rgb(52,106,56)"/>
<rect x="449.20" y="460.66" width="30.20" height="3.92" fill="rgb(19,21,20)"/>
<rect x="449.20" y="464.19" width="30.20" height="3.92" fill="rgb(57,134,62)"/>
<rect x="449.20" y="467.71" width="30.20" height="3.92" fill="rgb(54,129,60)"/>
<rect x="449.20" y="471.23" width="30.20" height="3.92" fill="rgb(61,145,67)"/>
<rect x="449.20" y="474.75" width="30.20" height="3.92" fill="rgb(88,185,93)"/>
<rect x="449.20" y="478.27" width="30.20" height="3.92" fill="rgb(88,176,91)"/>
<rect x="449.20" y="481.79" width="30.20" height="3.92" fill="rgb(67,142,74)"/>
<rect x="449.20" y="485.31" width="30.20" height="3.92" fill="rgb(35,83,43)"/>
<rect x="449.20" y="488.84" width="30.20" height="3.92" fill="rgb(31,72,38)"/>
<rect x="449.20" y="492.36" width="30.20" height="3.92" fill="rgb(36,86,45)"/>
<rect x="449.20" y="495.88" width="30.20" height="3.92" fill="rgb(34,81,43)"/></g>
</svg>
</body></html>
